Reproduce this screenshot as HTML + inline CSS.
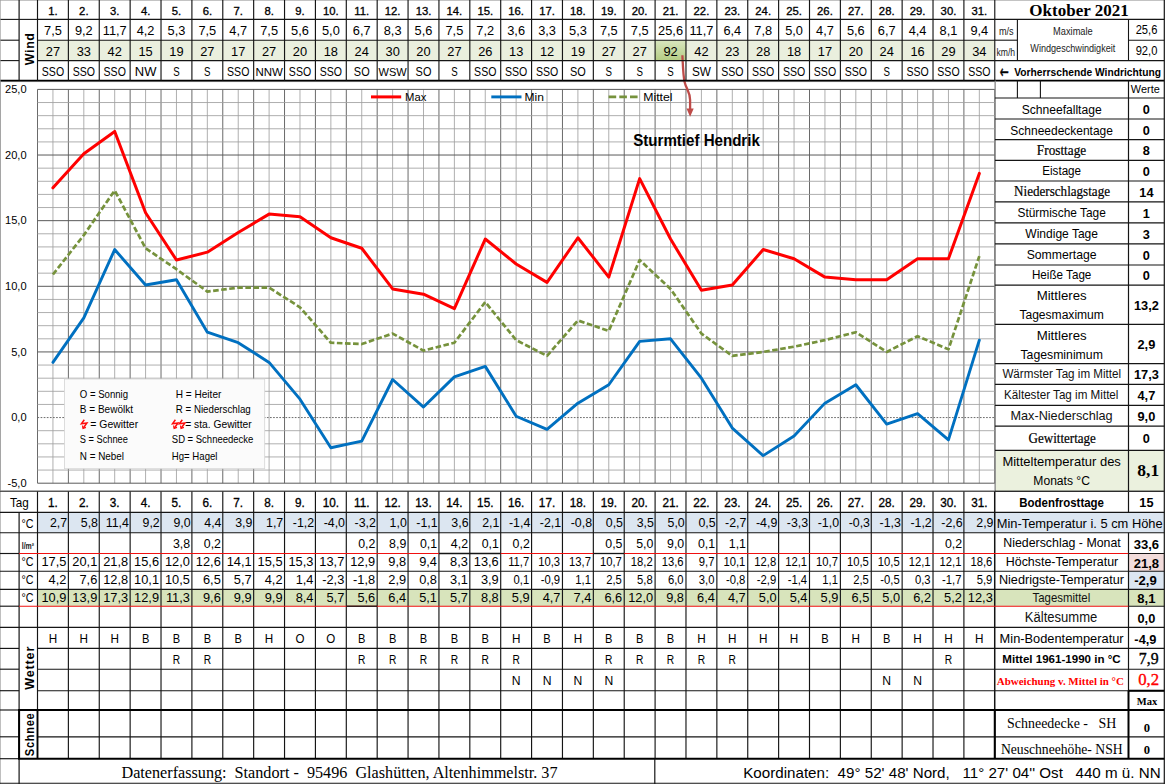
<!DOCTYPE html>
<html lang="de"><head><meta charset="utf-8"><title>Oktober 2021 – Wetterdaten Glashütten</title>
<style>
html,body{margin:0;padding:0;background:#fff;}
body{width:1165px;height:784px;overflow:hidden;}
svg{display:block;font-family:"Liberation Sans",Arial,sans-serif;}
svg text{white-space:pre;}
svg .tr{font-family:"Liberation Serif","Times New Roman",serif;}
</style></head><body>
<svg width="1165" height="784" viewBox="0 0 1165 784" role="img" aria-label="Wetterdaten Oktober 2021">
<rect x="0.00" y="0.00" width="1165.00" height="784.00" fill="#fff" />
<rect x="37.50" y="40.20" width="957.28" height="20.40" fill="#eaefde" />
<defs><linearGradient id="g92" x1="0" y1="0" x2="0" y2="1"><stop offset="0" stop-color="#d9e6bf"/><stop offset="1" stop-color="#b4cc83"/></linearGradient></defs>
<rect x="655.10" y="40.20" width="30.88" height="20.40" fill="url(#g92)" />
<rect x="37.50" y="512.30" width="1126.80" height="20.40" fill="#dce6f1" />
<rect x="37.50" y="589.40" width="1126.80" height="16.80" fill="#d8e4bc" />
<rect x="1128.50" y="553.50" width="35.80" height="17.70" fill="#f2dcdb" />
<rect x="1128.50" y="571.20" width="35.80" height="18.20" fill="#dce6f1" />
<rect x="994.78" y="450.30" width="169.52" height="41.00" fill="#ebf1de" />
<rect x="0.5" y="81.60" width="994.28" height="409.20" fill="#fff" stroke="#b8b8b8" stroke-width="1"/>
<line x1="37.50" y1="89.40" x2="37.50" y2="483.20" stroke="#6a6a6a" stroke-width="1.0" />
<line x1="52.94" y1="89.40" x2="52.94" y2="483.20" stroke="#a0a0a0" stroke-width="0.85" />
<line x1="68.38" y1="89.40" x2="68.38" y2="483.20" stroke="#6a6a6a" stroke-width="1.0" />
<line x1="83.82" y1="89.40" x2="83.82" y2="483.20" stroke="#a0a0a0" stroke-width="0.85" />
<line x1="99.26" y1="89.40" x2="99.26" y2="483.20" stroke="#6a6a6a" stroke-width="1.0" />
<line x1="114.70" y1="89.40" x2="114.70" y2="483.20" stroke="#a0a0a0" stroke-width="0.85" />
<line x1="130.14" y1="89.40" x2="130.14" y2="483.20" stroke="#6a6a6a" stroke-width="1.0" />
<line x1="145.58" y1="89.40" x2="145.58" y2="483.20" stroke="#a0a0a0" stroke-width="0.85" />
<line x1="161.02" y1="89.40" x2="161.02" y2="483.20" stroke="#6a6a6a" stroke-width="1.0" />
<line x1="176.46" y1="89.40" x2="176.46" y2="483.20" stroke="#a0a0a0" stroke-width="0.85" />
<line x1="191.90" y1="89.40" x2="191.90" y2="483.20" stroke="#6a6a6a" stroke-width="1.0" />
<line x1="207.34" y1="89.40" x2="207.34" y2="483.20" stroke="#a0a0a0" stroke-width="0.85" />
<line x1="222.78" y1="89.40" x2="222.78" y2="483.20" stroke="#6a6a6a" stroke-width="1.0" />
<line x1="238.22" y1="89.40" x2="238.22" y2="483.20" stroke="#a0a0a0" stroke-width="0.85" />
<line x1="253.66" y1="89.40" x2="253.66" y2="483.20" stroke="#6a6a6a" stroke-width="1.0" />
<line x1="269.10" y1="89.40" x2="269.10" y2="483.20" stroke="#a0a0a0" stroke-width="0.85" />
<line x1="284.54" y1="89.40" x2="284.54" y2="483.20" stroke="#6a6a6a" stroke-width="1.0" />
<line x1="299.98" y1="89.40" x2="299.98" y2="483.20" stroke="#a0a0a0" stroke-width="0.85" />
<line x1="315.42" y1="89.40" x2="315.42" y2="483.20" stroke="#6a6a6a" stroke-width="1.0" />
<line x1="330.86" y1="89.40" x2="330.86" y2="483.20" stroke="#a0a0a0" stroke-width="0.85" />
<line x1="346.30" y1="89.40" x2="346.30" y2="483.20" stroke="#6a6a6a" stroke-width="1.0" />
<line x1="361.74" y1="89.40" x2="361.74" y2="483.20" stroke="#a0a0a0" stroke-width="0.85" />
<line x1="377.18" y1="89.40" x2="377.18" y2="483.20" stroke="#6a6a6a" stroke-width="1.0" />
<line x1="392.62" y1="89.40" x2="392.62" y2="483.20" stroke="#a0a0a0" stroke-width="0.85" />
<line x1="408.06" y1="89.40" x2="408.06" y2="483.20" stroke="#6a6a6a" stroke-width="1.0" />
<line x1="423.50" y1="89.40" x2="423.50" y2="483.20" stroke="#a0a0a0" stroke-width="0.85" />
<line x1="438.94" y1="89.40" x2="438.94" y2="483.20" stroke="#6a6a6a" stroke-width="1.0" />
<line x1="454.38" y1="89.40" x2="454.38" y2="483.20" stroke="#a0a0a0" stroke-width="0.85" />
<line x1="469.82" y1="89.40" x2="469.82" y2="483.20" stroke="#6a6a6a" stroke-width="1.0" />
<line x1="485.26" y1="89.40" x2="485.26" y2="483.20" stroke="#a0a0a0" stroke-width="0.85" />
<line x1="500.70" y1="89.40" x2="500.70" y2="483.20" stroke="#6a6a6a" stroke-width="1.0" />
<line x1="516.14" y1="89.40" x2="516.14" y2="483.20" stroke="#a0a0a0" stroke-width="0.85" />
<line x1="531.58" y1="89.40" x2="531.58" y2="483.20" stroke="#6a6a6a" stroke-width="1.0" />
<line x1="547.02" y1="89.40" x2="547.02" y2="483.20" stroke="#a0a0a0" stroke-width="0.85" />
<line x1="562.46" y1="89.40" x2="562.46" y2="483.20" stroke="#6a6a6a" stroke-width="1.0" />
<line x1="577.90" y1="89.40" x2="577.90" y2="483.20" stroke="#a0a0a0" stroke-width="0.85" />
<line x1="593.34" y1="89.40" x2="593.34" y2="483.20" stroke="#6a6a6a" stroke-width="1.0" />
<line x1="608.78" y1="89.40" x2="608.78" y2="483.20" stroke="#a0a0a0" stroke-width="0.85" />
<line x1="624.22" y1="89.40" x2="624.22" y2="483.20" stroke="#6a6a6a" stroke-width="1.0" />
<line x1="639.66" y1="89.40" x2="639.66" y2="483.20" stroke="#a0a0a0" stroke-width="0.85" />
<line x1="655.10" y1="89.40" x2="655.10" y2="483.20" stroke="#6a6a6a" stroke-width="1.0" />
<line x1="670.54" y1="89.40" x2="670.54" y2="483.20" stroke="#a0a0a0" stroke-width="0.85" />
<line x1="685.98" y1="89.40" x2="685.98" y2="483.20" stroke="#6a6a6a" stroke-width="1.0" />
<line x1="701.42" y1="89.40" x2="701.42" y2="483.20" stroke="#a0a0a0" stroke-width="0.85" />
<line x1="716.86" y1="89.40" x2="716.86" y2="483.20" stroke="#6a6a6a" stroke-width="1.0" />
<line x1="732.30" y1="89.40" x2="732.30" y2="483.20" stroke="#a0a0a0" stroke-width="0.85" />
<line x1="747.74" y1="89.40" x2="747.74" y2="483.20" stroke="#6a6a6a" stroke-width="1.0" />
<line x1="763.18" y1="89.40" x2="763.18" y2="483.20" stroke="#a0a0a0" stroke-width="0.85" />
<line x1="778.62" y1="89.40" x2="778.62" y2="483.20" stroke="#6a6a6a" stroke-width="1.0" />
<line x1="794.06" y1="89.40" x2="794.06" y2="483.20" stroke="#a0a0a0" stroke-width="0.85" />
<line x1="809.50" y1="89.40" x2="809.50" y2="483.20" stroke="#6a6a6a" stroke-width="1.0" />
<line x1="824.94" y1="89.40" x2="824.94" y2="483.20" stroke="#a0a0a0" stroke-width="0.85" />
<line x1="840.38" y1="89.40" x2="840.38" y2="483.20" stroke="#6a6a6a" stroke-width="1.0" />
<line x1="855.82" y1="89.40" x2="855.82" y2="483.20" stroke="#a0a0a0" stroke-width="0.85" />
<line x1="871.26" y1="89.40" x2="871.26" y2="483.20" stroke="#6a6a6a" stroke-width="1.0" />
<line x1="886.70" y1="89.40" x2="886.70" y2="483.20" stroke="#a0a0a0" stroke-width="0.85" />
<line x1="902.14" y1="89.40" x2="902.14" y2="483.20" stroke="#6a6a6a" stroke-width="1.0" />
<line x1="917.58" y1="89.40" x2="917.58" y2="483.20" stroke="#a0a0a0" stroke-width="0.85" />
<line x1="933.02" y1="89.40" x2="933.02" y2="483.20" stroke="#6a6a6a" stroke-width="1.0" />
<line x1="948.46" y1="89.40" x2="948.46" y2="483.20" stroke="#a0a0a0" stroke-width="0.85" />
<line x1="963.90" y1="89.40" x2="963.90" y2="483.20" stroke="#6a6a6a" stroke-width="1.0" />
<line x1="979.34" y1="89.40" x2="979.34" y2="483.20" stroke="#a0a0a0" stroke-width="0.85" />
<line x1="994.78" y1="89.40" x2="994.78" y2="483.20" stroke="#6a6a6a" stroke-width="1.0" />
<line x1="37.50" y1="483.20" x2="994.78" y2="483.20" stroke="#5a5a5a" stroke-width="1.0" />
<line x1="37.50" y1="470.07" x2="994.78" y2="470.07" stroke="#a0a0a0" stroke-width="0.85" />
<line x1="37.50" y1="456.95" x2="994.78" y2="456.95" stroke="#a0a0a0" stroke-width="0.85" />
<line x1="37.50" y1="443.82" x2="994.78" y2="443.82" stroke="#a0a0a0" stroke-width="0.85" />
<line x1="37.50" y1="430.69" x2="994.78" y2="430.69" stroke="#a0a0a0" stroke-width="0.85" />
<line x1="37.50" y1="417.57" x2="994.78" y2="417.57" stroke="#6a6a6a" stroke-width="1.0" stroke-dasharray="1.7 1.4"/>
<line x1="37.50" y1="404.44" x2="994.78" y2="404.44" stroke="#a0a0a0" stroke-width="0.85" />
<line x1="37.50" y1="391.31" x2="994.78" y2="391.31" stroke="#a0a0a0" stroke-width="0.85" />
<line x1="37.50" y1="378.19" x2="994.78" y2="378.19" stroke="#a0a0a0" stroke-width="0.85" />
<line x1="37.50" y1="365.06" x2="994.78" y2="365.06" stroke="#a0a0a0" stroke-width="0.85" />
<line x1="37.50" y1="351.93" x2="994.78" y2="351.93" stroke="#5a5a5a" stroke-width="1.0" />
<line x1="37.50" y1="338.81" x2="994.78" y2="338.81" stroke="#a0a0a0" stroke-width="0.85" />
<line x1="37.50" y1="325.68" x2="994.78" y2="325.68" stroke="#a0a0a0" stroke-width="0.85" />
<line x1="37.50" y1="312.55" x2="994.78" y2="312.55" stroke="#a0a0a0" stroke-width="0.85" />
<line x1="37.50" y1="299.43" x2="994.78" y2="299.43" stroke="#a0a0a0" stroke-width="0.85" />
<line x1="37.50" y1="286.30" x2="994.78" y2="286.30" stroke="#5a5a5a" stroke-width="1.0" />
<line x1="37.50" y1="273.17" x2="994.78" y2="273.17" stroke="#a0a0a0" stroke-width="0.85" />
<line x1="37.50" y1="260.05" x2="994.78" y2="260.05" stroke="#a0a0a0" stroke-width="0.85" />
<line x1="37.50" y1="246.92" x2="994.78" y2="246.92" stroke="#a0a0a0" stroke-width="0.85" />
<line x1="37.50" y1="233.79" x2="994.78" y2="233.79" stroke="#a0a0a0" stroke-width="0.85" />
<line x1="37.50" y1="220.67" x2="994.78" y2="220.67" stroke="#5a5a5a" stroke-width="1.0" />
<line x1="37.50" y1="207.54" x2="994.78" y2="207.54" stroke="#a0a0a0" stroke-width="0.85" />
<line x1="37.50" y1="194.41" x2="994.78" y2="194.41" stroke="#a0a0a0" stroke-width="0.85" />
<line x1="37.50" y1="181.29" x2="994.78" y2="181.29" stroke="#a0a0a0" stroke-width="0.85" />
<line x1="37.50" y1="168.16" x2="994.78" y2="168.16" stroke="#a0a0a0" stroke-width="0.85" />
<line x1="37.50" y1="155.03" x2="994.78" y2="155.03" stroke="#5a5a5a" stroke-width="1.0" />
<line x1="37.50" y1="141.91" x2="994.78" y2="141.91" stroke="#a0a0a0" stroke-width="0.85" />
<line x1="37.50" y1="128.78" x2="994.78" y2="128.78" stroke="#a0a0a0" stroke-width="0.85" />
<line x1="37.50" y1="115.65" x2="994.78" y2="115.65" stroke="#a0a0a0" stroke-width="0.85" />
<line x1="37.50" y1="102.53" x2="994.78" y2="102.53" stroke="#a0a0a0" stroke-width="0.85" />
<line x1="37.50" y1="89.40" x2="994.78" y2="89.40" stroke="#5a5a5a" stroke-width="1.0" />
<text transform="translate(26.60 487.00) scale(0.9846 1)" font-size="11.29" text-anchor="end" fill="#000" >-5,0</text>
<text transform="translate(26.60 421.37) scale(0.9824 1)" font-size="11.29" text-anchor="end" fill="#000" >0,0</text>
<text transform="translate(26.60 355.73) scale(0.9824 1)" font-size="11.29" text-anchor="end" fill="#000" >5,0</text>
<text transform="translate(26.60 290.10) scale(0.9832 1)" font-size="11.29" text-anchor="end" fill="#000" >10,0</text>
<text transform="translate(26.60 224.47) scale(0.9832 1)" font-size="11.29" text-anchor="end" fill="#000" >15,0</text>
<text transform="translate(26.60 158.83) scale(0.9832 1)" font-size="11.29" text-anchor="end" fill="#000" >20,0</text>
<text transform="translate(26.60 93.20) scale(0.9832 1)" font-size="11.29" text-anchor="end" fill="#000" >25,0</text>
<rect x="64.4" y="379" width="200.3" height="89.7" fill="#fbfbfb" stroke="#d4d4d4" stroke-width="0.8"/>
<text transform="translate(79.80 397.60) scale(0.9347 1)" font-size="10.27" text-anchor="start" fill="#000" >O = Sonnig</text>
<text transform="translate(175.80 397.60) scale(0.9797 1)" font-size="10.27" text-anchor="start" fill="#000" >H = Heiter</text>
<text transform="translate(79.80 412.60) scale(0.9770 1)" font-size="10.27" text-anchor="start" fill="#000" >B = Bewölkt</text>
<text transform="translate(175.80 412.60) scale(0.9487 1)" font-size="10.27" text-anchor="start" fill="#000" >R = Niederschlag</text>
<text transform="translate(90.30 428.40) scale(1.0170 1)" font-size="10.27" text-anchor="start" fill="#000" >= Gewitter</text>
<text transform="translate(185.20 428.40) scale(1.0013 1)" font-size="10.27" text-anchor="start" fill="#000" >= sta. Gewitter</text>
<text transform="translate(79.80 443.40) scale(0.9022 1)" font-size="10.27" text-anchor="start" fill="#000" >S = Schnee</text>
<text transform="translate(171.80 443.40) scale(0.9253 1)" font-size="10.27" text-anchor="start" fill="#000" >SD = Schneedecke</text>
<text transform="translate(79.80 459.60) scale(0.9643 1)" font-size="10.27" text-anchor="start" fill="#000" >N = Nebel</text>
<text transform="translate(171.80 459.60) scale(0.9366 1)" font-size="10.27" text-anchor="start" fill="#000" >Hg= Hagel</text>
<path d="M84.3 419.7 L81.4 423.7 L86.9 423.0 L83.1 428.2" fill="none" stroke="#ff0d0d" stroke-width="1.5" stroke-linejoin="miter"/>
<path d="M82.5 425.5 L83.0 428.4 L85.9 427.4" fill="none" stroke="#ff0d0d" stroke-width="1.2"/>
<path d="M175.4 419.7 L172.5 423.7 L178.0 423.0 L174.2 428.2" fill="none" stroke="#ff0d0d" stroke-width="1.5" stroke-linejoin="miter"/>
<path d="M173.6 425.5 L174.1 428.4 L177.0 427.4" fill="none" stroke="#ff0d0d" stroke-width="1.2"/>
<path d="M182.3 419.7 L179.4 423.7 L184.9 423.0 L181.1 428.2" fill="none" stroke="#ff0d0d" stroke-width="1.5" stroke-linejoin="miter"/>
<path d="M180.5 425.5 L181.0 428.4 L183.9 427.4" fill="none" stroke="#ff0d0d" stroke-width="1.2"/>
<polyline points="52.94,274.49 83.82,235.11 114.70,190.48 145.58,248.23 176.46,269.24 207.34,291.55 238.22,287.61 269.10,287.61 299.98,307.30 330.86,342.74 361.74,344.06 392.62,333.56 423.50,350.62 454.38,342.74 485.26,302.05 516.14,340.12 547.02,355.87 577.90,320.43 608.78,330.93 639.66,260.05 670.54,288.93 701.42,333.56 732.30,355.87 763.18,351.93 794.06,346.68 824.94,340.12 855.82,332.24 886.70,351.93 917.58,336.18 948.46,349.31 979.34,256.11" fill="none" stroke="#76923c" stroke-width="2.7" stroke-linejoin="round" stroke-linecap="butt" stroke-dasharray="5.6 2.5"/>
<polyline points="52.94,362.43 83.82,317.80 114.70,249.55 145.58,284.99 176.46,279.74 207.34,332.24 238.22,342.74 269.10,362.43 299.98,399.19 330.86,447.76 361.74,441.19 392.62,379.50 423.50,407.07 454.38,376.87 485.26,366.37 516.14,416.25 547.02,429.38 577.90,403.13 608.78,384.75 639.66,341.43 670.54,338.81 701.42,378.19 732.30,428.07 763.18,455.63 794.06,435.94 824.94,403.13 855.82,384.75 886.70,424.13 917.58,413.63 948.46,439.88 979.34,340.12" fill="none" stroke="#0070c0" stroke-width="2.9" stroke-linejoin="round" stroke-linecap="round" />
<polyline points="52.94,187.85 83.82,153.72 114.70,131.41 145.58,212.79 176.46,260.05 207.34,252.17 238.22,232.48 269.10,214.10 299.98,216.73 330.86,237.73 361.74,248.23 392.62,288.93 423.50,294.18 454.38,308.62 485.26,239.04 516.14,263.98 547.02,282.36 577.90,237.73 608.78,277.11 639.66,178.66 670.54,239.04 701.42,290.24 732.30,284.99 763.18,249.55 794.06,258.73 824.94,277.11 855.82,279.74 886.70,279.74 917.58,258.73 948.46,258.73 979.34,173.41" fill="none" stroke="#ff0000" stroke-width="3.0" stroke-linejoin="round" stroke-linecap="round" />
<line x1="371.00" y1="96.90" x2="401.20" y2="96.90" stroke="#ff0000" stroke-width="3.0" />
<text transform="translate(405.00 101.00) scale(1.0517 1)" font-size="10.73" text-anchor="start" fill="#000" >Max</text>
<line x1="491.30" y1="96.90" x2="521.50" y2="96.90" stroke="#0070c0" stroke-width="2.9" />
<text transform="translate(524.50 101.00) scale(1.1233 1)" font-size="10.73" text-anchor="start" fill="#000" >Min</text>
<line x1="608.60" y1="96.90" x2="637.60" y2="96.90" stroke="#76923c" stroke-width="2.7" stroke-dasharray="7.6 3.1"/>
<text transform="translate(643.20 101.00) scale(1.1453 1)" font-size="10.73" text-anchor="start" fill="#000" >Mittel</text>
<text transform="translate(633.20 146.30) scale(0.9602 1)" font-size="15.73" text-anchor="start" font-weight="bold" fill="#000" >Sturmtief Hendrik</text>
<path d="M682.4 55.2 C683.0 68 683.2 76 684.6 82 C686.2 89 690.1 92 690.1 100 L690.1 111" fill="none" stroke="#be4b48" stroke-width="2.3"/>
<path d="M686.5 108.6 L693.7 108.6 L690.1 116.8 Z" fill="#be4b48"/>
<text transform="translate(52.94 14.50) scale(0.9842 1)" font-size="11.47" text-anchor="middle" fill="#000" stroke="#000" stroke-width="0.32">1.</text>
<text transform="translate(52.94 35.40) scale(0.9824 1)" font-size="13.04" text-anchor="middle" fill="#000" >7,5</text>
<text transform="translate(52.94 55.60) scale(0.9852 1)" font-size="13.04" text-anchor="middle" fill="#000" >27</text>
<text transform="translate(52.94 75.60) scale(0.8094 1)" font-size="13.04" text-anchor="middle" fill="#000" >SSO</text>
<text transform="translate(83.82 14.50) scale(0.9842 1)" font-size="11.47" text-anchor="middle" fill="#000" stroke="#000" stroke-width="0.32">2.</text>
<text transform="translate(83.82 35.40) scale(0.9824 1)" font-size="13.04" text-anchor="middle" fill="#000" >9,2</text>
<text transform="translate(83.82 55.60) scale(0.9852 1)" font-size="13.04" text-anchor="middle" fill="#000" >33</text>
<text transform="translate(83.82 75.60) scale(0.8094 1)" font-size="13.04" text-anchor="middle" fill="#000" >SSO</text>
<text transform="translate(114.70 14.50) scale(0.9842 1)" font-size="11.47" text-anchor="middle" fill="#000" stroke="#000" stroke-width="0.32">3.</text>
<text transform="translate(114.70 35.40) scale(0.9832 1)" font-size="13.04" text-anchor="middle" fill="#000" >11,7</text>
<text transform="translate(114.70 55.60) scale(0.9852 1)" font-size="13.04" text-anchor="middle" fill="#000" >42</text>
<text transform="translate(114.70 75.60) scale(0.8094 1)" font-size="13.04" text-anchor="middle" fill="#000" >SSO</text>
<text transform="translate(145.58 14.50) scale(0.9842 1)" font-size="11.47" text-anchor="middle" fill="#000" stroke="#000" stroke-width="0.32">4.</text>
<text transform="translate(145.58 35.40) scale(0.9824 1)" font-size="13.04" text-anchor="middle" fill="#000" >4,2</text>
<text transform="translate(145.58 55.60) scale(0.9852 1)" font-size="13.04" text-anchor="middle" fill="#000" >15</text>
<text transform="translate(145.58 75.60) scale(0.9962 1)" font-size="13.04" text-anchor="middle" fill="#000" >NW</text>
<text transform="translate(176.46 14.50) scale(0.9842 1)" font-size="11.47" text-anchor="middle" fill="#000" stroke="#000" stroke-width="0.32">5.</text>
<text transform="translate(176.46 35.40) scale(0.9824 1)" font-size="13.04" text-anchor="middle" fill="#000" >5,3</text>
<text transform="translate(176.46 55.60) scale(0.9852 1)" font-size="13.04" text-anchor="middle" fill="#000" >19</text>
<text transform="translate(176.46 75.60) scale(0.7447 1)" font-size="13.04" text-anchor="middle" fill="#000" >S</text>
<text transform="translate(207.34 14.50) scale(0.9842 1)" font-size="11.47" text-anchor="middle" fill="#000" stroke="#000" stroke-width="0.32">6.</text>
<text transform="translate(207.34 35.40) scale(0.9824 1)" font-size="13.04" text-anchor="middle" fill="#000" >7,5</text>
<text transform="translate(207.34 55.60) scale(0.9852 1)" font-size="13.04" text-anchor="middle" fill="#000" >27</text>
<text transform="translate(207.34 75.60) scale(0.7447 1)" font-size="13.04" text-anchor="middle" fill="#000" >S</text>
<text transform="translate(238.22 14.50) scale(0.9842 1)" font-size="11.47" text-anchor="middle" fill="#000" stroke="#000" stroke-width="0.32">7.</text>
<text transform="translate(238.22 35.40) scale(0.9824 1)" font-size="13.04" text-anchor="middle" fill="#000" >4,7</text>
<text transform="translate(238.22 55.60) scale(0.9852 1)" font-size="13.04" text-anchor="middle" fill="#000" >17</text>
<text transform="translate(238.22 75.60) scale(0.8094 1)" font-size="13.04" text-anchor="middle" fill="#000" >SSO</text>
<text transform="translate(269.10 14.50) scale(0.9842 1)" font-size="11.47" text-anchor="middle" fill="#000" stroke="#000" stroke-width="0.32">8.</text>
<text transform="translate(269.10 35.40) scale(0.9824 1)" font-size="13.04" text-anchor="middle" fill="#000" >7,5</text>
<text transform="translate(269.10 55.60) scale(0.9852 1)" font-size="13.04" text-anchor="middle" fill="#000" >27</text>
<text transform="translate(269.10 75.60) scale(0.9871 1)" font-size="11.65" text-anchor="middle" fill="#000" >NNW</text>
<text transform="translate(299.98 14.50) scale(0.9842 1)" font-size="11.47" text-anchor="middle" fill="#000" stroke="#000" stroke-width="0.32">9.</text>
<text transform="translate(299.98 35.40) scale(0.9824 1)" font-size="13.04" text-anchor="middle" fill="#000" >5,6</text>
<text transform="translate(299.98 55.60) scale(0.9852 1)" font-size="13.04" text-anchor="middle" fill="#000" >20</text>
<text transform="translate(299.98 75.60) scale(0.8094 1)" font-size="13.04" text-anchor="middle" fill="#000" >SSO</text>
<text transform="translate(330.86 14.50) scale(0.9846 1)" font-size="11.47" text-anchor="middle" fill="#000" stroke="#000" stroke-width="0.32">10.</text>
<text transform="translate(330.86 35.40) scale(0.9824 1)" font-size="13.04" text-anchor="middle" fill="#000" >5,0</text>
<text transform="translate(330.86 55.60) scale(0.9852 1)" font-size="13.04" text-anchor="middle" fill="#000" >18</text>
<text transform="translate(330.86 75.60) scale(0.8094 1)" font-size="13.04" text-anchor="middle" fill="#000" >SSO</text>
<text transform="translate(361.74 14.50) scale(0.9846 1)" font-size="11.47" text-anchor="middle" fill="#000" stroke="#000" stroke-width="0.32">11.</text>
<text transform="translate(361.74 35.40) scale(0.9824 1)" font-size="13.04" text-anchor="middle" fill="#000" >6,7</text>
<text transform="translate(361.74 55.60) scale(0.9852 1)" font-size="13.04" text-anchor="middle" fill="#000" >24</text>
<text transform="translate(361.74 75.60) scale(0.8392 1)" font-size="13.04" text-anchor="middle" fill="#000" >SO</text>
<text transform="translate(392.62 14.50) scale(0.9846 1)" font-size="11.47" text-anchor="middle" fill="#000" stroke="#000" stroke-width="0.32">12.</text>
<text transform="translate(392.62 35.40) scale(0.9824 1)" font-size="13.04" text-anchor="middle" fill="#000" >8,3</text>
<text transform="translate(392.62 55.60) scale(0.9852 1)" font-size="13.04" text-anchor="middle" fill="#000" >30</text>
<text transform="translate(392.62 75.60) scale(0.9474 1)" font-size="11.65" text-anchor="middle" fill="#000" >WSW</text>
<text transform="translate(423.50 14.50) scale(0.9846 1)" font-size="11.47" text-anchor="middle" fill="#000" stroke="#000" stroke-width="0.32">13.</text>
<text transform="translate(423.50 35.40) scale(0.9824 1)" font-size="13.04" text-anchor="middle" fill="#000" >5,6</text>
<text transform="translate(423.50 55.60) scale(0.9852 1)" font-size="13.04" text-anchor="middle" fill="#000" >20</text>
<text transform="translate(423.50 75.60) scale(0.8392 1)" font-size="13.04" text-anchor="middle" fill="#000" >SO</text>
<text transform="translate(454.38 14.50) scale(0.9846 1)" font-size="11.47" text-anchor="middle" fill="#000" stroke="#000" stroke-width="0.32">14.</text>
<text transform="translate(454.38 35.40) scale(0.9824 1)" font-size="13.04" text-anchor="middle" fill="#000" >7,5</text>
<text transform="translate(454.38 55.60) scale(0.9852 1)" font-size="13.04" text-anchor="middle" fill="#000" >27</text>
<text transform="translate(454.38 75.60) scale(0.7447 1)" font-size="13.04" text-anchor="middle" fill="#000" >S</text>
<text transform="translate(485.26 14.50) scale(0.9846 1)" font-size="11.47" text-anchor="middle" fill="#000" stroke="#000" stroke-width="0.32">15.</text>
<text transform="translate(485.26 35.40) scale(0.9824 1)" font-size="13.04" text-anchor="middle" fill="#000" >7,2</text>
<text transform="translate(485.26 55.60) scale(0.9852 1)" font-size="13.04" text-anchor="middle" fill="#000" >26</text>
<text transform="translate(485.26 75.60) scale(0.8094 1)" font-size="13.04" text-anchor="middle" fill="#000" >SSO</text>
<text transform="translate(516.14 14.50) scale(0.9846 1)" font-size="11.47" text-anchor="middle" fill="#000" stroke="#000" stroke-width="0.32">16.</text>
<text transform="translate(516.14 35.40) scale(0.9824 1)" font-size="13.04" text-anchor="middle" fill="#000" >3,6</text>
<text transform="translate(516.14 55.60) scale(0.9852 1)" font-size="13.04" text-anchor="middle" fill="#000" >13</text>
<text transform="translate(516.14 75.60) scale(0.8094 1)" font-size="13.04" text-anchor="middle" fill="#000" >SSO</text>
<text transform="translate(547.02 14.50) scale(0.9846 1)" font-size="11.47" text-anchor="middle" fill="#000" stroke="#000" stroke-width="0.32">17.</text>
<text transform="translate(547.02 35.40) scale(0.9824 1)" font-size="13.04" text-anchor="middle" fill="#000" >3,3</text>
<text transform="translate(547.02 55.60) scale(0.9852 1)" font-size="13.04" text-anchor="middle" fill="#000" >12</text>
<text transform="translate(547.02 75.60) scale(0.8094 1)" font-size="13.04" text-anchor="middle" fill="#000" >SSO</text>
<text transform="translate(577.90 14.50) scale(0.9846 1)" font-size="11.47" text-anchor="middle" fill="#000" stroke="#000" stroke-width="0.32">18.</text>
<text transform="translate(577.90 35.40) scale(0.9824 1)" font-size="13.04" text-anchor="middle" fill="#000" >5,3</text>
<text transform="translate(577.90 55.60) scale(0.9852 1)" font-size="13.04" text-anchor="middle" fill="#000" >19</text>
<text transform="translate(577.90 75.60) scale(0.8392 1)" font-size="13.04" text-anchor="middle" fill="#000" >SO</text>
<text transform="translate(608.78 14.50) scale(0.9846 1)" font-size="11.47" text-anchor="middle" fill="#000" stroke="#000" stroke-width="0.32">19.</text>
<text transform="translate(608.78 35.40) scale(0.9824 1)" font-size="13.04" text-anchor="middle" fill="#000" >7,5</text>
<text transform="translate(608.78 55.60) scale(0.9852 1)" font-size="13.04" text-anchor="middle" fill="#000" >27</text>
<text transform="translate(608.78 75.60) scale(0.7447 1)" font-size="13.04" text-anchor="middle" fill="#000" >S</text>
<text transform="translate(639.66 14.50) scale(0.9846 1)" font-size="11.47" text-anchor="middle" fill="#000" stroke="#000" stroke-width="0.32">20.</text>
<text transform="translate(639.66 35.40) scale(0.9824 1)" font-size="13.04" text-anchor="middle" fill="#000" >7,5</text>
<text transform="translate(639.66 55.60) scale(0.9852 1)" font-size="13.04" text-anchor="middle" fill="#000" >27</text>
<text transform="translate(639.66 75.60) scale(0.7447 1)" font-size="13.04" text-anchor="middle" fill="#000" >S</text>
<text transform="translate(670.54 14.50) scale(0.9846 1)" font-size="11.47" text-anchor="middle" fill="#000" stroke="#000" stroke-width="0.32">21.</text>
<text transform="translate(670.54 35.40) scale(0.9832 1)" font-size="13.04" text-anchor="middle" fill="#000" >25,6</text>
<text transform="translate(670.54 55.60) scale(0.9852 1)" font-size="13.04" text-anchor="middle" fill="#000" >92</text>
<text transform="translate(670.54 75.60) scale(0.7447 1)" font-size="13.04" text-anchor="middle" fill="#000" >S</text>
<text transform="translate(701.42 14.50) scale(0.9846 1)" font-size="11.47" text-anchor="middle" fill="#000" stroke="#000" stroke-width="0.32">22.</text>
<text transform="translate(701.42 35.40) scale(0.9832 1)" font-size="13.04" text-anchor="middle" fill="#000" >11,7</text>
<text transform="translate(701.42 55.60) scale(0.9852 1)" font-size="13.04" text-anchor="middle" fill="#000" >42</text>
<text transform="translate(701.42 75.60) scale(0.9054 1)" font-size="13.04" text-anchor="middle" fill="#000" >SW</text>
<text transform="translate(732.30 14.50) scale(0.9846 1)" font-size="11.47" text-anchor="middle" fill="#000" stroke="#000" stroke-width="0.32">23.</text>
<text transform="translate(732.30 35.40) scale(0.9824 1)" font-size="13.04" text-anchor="middle" fill="#000" >6,4</text>
<text transform="translate(732.30 55.60) scale(0.9852 1)" font-size="13.04" text-anchor="middle" fill="#000" >23</text>
<text transform="translate(732.30 75.60) scale(0.8094 1)" font-size="13.04" text-anchor="middle" fill="#000" >SSO</text>
<text transform="translate(763.18 14.50) scale(0.9846 1)" font-size="11.47" text-anchor="middle" fill="#000" stroke="#000" stroke-width="0.32">24.</text>
<text transform="translate(763.18 35.40) scale(0.9824 1)" font-size="13.04" text-anchor="middle" fill="#000" >7,8</text>
<text transform="translate(763.18 55.60) scale(0.9852 1)" font-size="13.04" text-anchor="middle" fill="#000" >28</text>
<text transform="translate(763.18 75.60) scale(0.8094 1)" font-size="13.04" text-anchor="middle" fill="#000" >SSO</text>
<text transform="translate(794.06 14.50) scale(0.9846 1)" font-size="11.47" text-anchor="middle" fill="#000" stroke="#000" stroke-width="0.32">25.</text>
<text transform="translate(794.06 35.40) scale(0.9824 1)" font-size="13.04" text-anchor="middle" fill="#000" >5,0</text>
<text transform="translate(794.06 55.60) scale(0.9852 1)" font-size="13.04" text-anchor="middle" fill="#000" >18</text>
<text transform="translate(794.06 75.60) scale(0.8094 1)" font-size="13.04" text-anchor="middle" fill="#000" >SSO</text>
<text transform="translate(824.94 14.50) scale(0.9846 1)" font-size="11.47" text-anchor="middle" fill="#000" stroke="#000" stroke-width="0.32">26.</text>
<text transform="translate(824.94 35.40) scale(0.9824 1)" font-size="13.04" text-anchor="middle" fill="#000" >4,7</text>
<text transform="translate(824.94 55.60) scale(0.9852 1)" font-size="13.04" text-anchor="middle" fill="#000" >17</text>
<text transform="translate(824.94 75.60) scale(0.8094 1)" font-size="13.04" text-anchor="middle" fill="#000" >SSO</text>
<text transform="translate(855.82 14.50) scale(0.9846 1)" font-size="11.47" text-anchor="middle" fill="#000" stroke="#000" stroke-width="0.32">27.</text>
<text transform="translate(855.82 35.40) scale(0.9824 1)" font-size="13.04" text-anchor="middle" fill="#000" >5,6</text>
<text transform="translate(855.82 55.60) scale(0.9852 1)" font-size="13.04" text-anchor="middle" fill="#000" >20</text>
<text transform="translate(855.82 75.60) scale(0.8094 1)" font-size="13.04" text-anchor="middle" fill="#000" >SSO</text>
<text transform="translate(886.70 14.50) scale(0.9846 1)" font-size="11.47" text-anchor="middle" fill="#000" stroke="#000" stroke-width="0.32">28.</text>
<text transform="translate(886.70 35.40) scale(0.9824 1)" font-size="13.04" text-anchor="middle" fill="#000" >6,7</text>
<text transform="translate(886.70 55.60) scale(0.9852 1)" font-size="13.04" text-anchor="middle" fill="#000" >24</text>
<text transform="translate(886.70 75.60) scale(0.7447 1)" font-size="13.04" text-anchor="middle" fill="#000" >S</text>
<text transform="translate(917.58 14.50) scale(0.9846 1)" font-size="11.47" text-anchor="middle" fill="#000" stroke="#000" stroke-width="0.32">29.</text>
<text transform="translate(917.58 35.40) scale(0.9824 1)" font-size="13.04" text-anchor="middle" fill="#000" >4,4</text>
<text transform="translate(917.58 55.60) scale(0.9852 1)" font-size="13.04" text-anchor="middle" fill="#000" >16</text>
<text transform="translate(917.58 75.60) scale(0.8094 1)" font-size="13.04" text-anchor="middle" fill="#000" >SSO</text>
<text transform="translate(948.46 14.50) scale(0.9846 1)" font-size="11.47" text-anchor="middle" fill="#000" stroke="#000" stroke-width="0.32">30.</text>
<text transform="translate(948.46 35.40) scale(0.9824 1)" font-size="13.04" text-anchor="middle" fill="#000" >8,1</text>
<text transform="translate(948.46 55.60) scale(0.9852 1)" font-size="13.04" text-anchor="middle" fill="#000" >29</text>
<text transform="translate(948.46 75.60) scale(0.8094 1)" font-size="13.04" text-anchor="middle" fill="#000" >SSO</text>
<text transform="translate(979.34 14.50) scale(0.9846 1)" font-size="11.47" text-anchor="middle" fill="#000" stroke="#000" stroke-width="0.32">31.</text>
<text transform="translate(979.34 35.40) scale(0.9824 1)" font-size="13.04" text-anchor="middle" fill="#000" >9,4</text>
<text transform="translate(979.34 55.60) scale(0.9852 1)" font-size="13.04" text-anchor="middle" fill="#000" >34</text>
<text transform="translate(979.34 75.60) scale(0.8094 1)" font-size="13.04" text-anchor="middle" fill="#000" >SSO</text>
<g transform="translate(34.4 48.8) rotate(-90)">
<text transform="translate(0.00 0.00) scale(0.9845 1)" font-size="12.67" text-anchor="middle" font-weight="bold" fill="#000" letter-spacing="0.6">Wind</text>
</g>
<line x1="0.00" y1="19.40" x2="19.10" y2="19.40" stroke="#151515" stroke-width="1.1" />
<line x1="37.50" y1="19.40" x2="994.78" y2="19.40" stroke="#151515" stroke-width="1.1" />
<line x1="0.00" y1="40.20" x2="19.10" y2="40.20" stroke="#151515" stroke-width="1.1" />
<line x1="37.50" y1="40.20" x2="994.78" y2="40.20" stroke="#151515" stroke-width="1.1" />
<line x1="0.00" y1="60.60" x2="19.10" y2="60.60" stroke="#151515" stroke-width="1.1" />
<line x1="37.50" y1="60.60" x2="994.78" y2="60.60" stroke="#151515" stroke-width="1.1" />
<line x1="19.10" y1="19.40" x2="37.50" y2="19.40" stroke="#151515" stroke-width="1.1" />
<line x1="0.00" y1="0.40" x2="1165.00" y2="0.40" stroke="#b4b4b4" stroke-width="0.9" />
<line x1="0.00" y1="80.60" x2="1164.30" y2="80.60" stroke="#000" stroke-width="1.8" />
<line x1="19.10" y1="0.00" x2="19.10" y2="80.60" stroke="#151515" stroke-width="1.2" />
<line x1="37.50" y1="0.00" x2="37.50" y2="80.60" stroke="#151515" stroke-width="1.15" />
<line x1="68.38" y1="0.00" x2="68.38" y2="80.60" stroke="#151515" stroke-width="1.15" />
<line x1="99.26" y1="0.00" x2="99.26" y2="80.60" stroke="#151515" stroke-width="1.15" />
<line x1="130.14" y1="0.00" x2="130.14" y2="80.60" stroke="#151515" stroke-width="1.15" />
<line x1="161.02" y1="0.00" x2="161.02" y2="80.60" stroke="#151515" stroke-width="1.15" />
<line x1="191.90" y1="0.00" x2="191.90" y2="80.60" stroke="#151515" stroke-width="1.15" />
<line x1="222.78" y1="0.00" x2="222.78" y2="80.60" stroke="#151515" stroke-width="1.15" />
<line x1="253.66" y1="0.00" x2="253.66" y2="80.60" stroke="#151515" stroke-width="1.15" />
<line x1="284.54" y1="0.00" x2="284.54" y2="80.60" stroke="#151515" stroke-width="1.15" />
<line x1="315.42" y1="0.00" x2="315.42" y2="80.60" stroke="#151515" stroke-width="1.15" />
<line x1="346.30" y1="0.00" x2="346.30" y2="80.60" stroke="#151515" stroke-width="1.15" />
<line x1="377.18" y1="0.00" x2="377.18" y2="80.60" stroke="#151515" stroke-width="1.15" />
<line x1="408.06" y1="0.00" x2="408.06" y2="80.60" stroke="#151515" stroke-width="1.15" />
<line x1="438.94" y1="0.00" x2="438.94" y2="80.60" stroke="#151515" stroke-width="1.15" />
<line x1="469.82" y1="0.00" x2="469.82" y2="80.60" stroke="#151515" stroke-width="1.15" />
<line x1="500.70" y1="0.00" x2="500.70" y2="80.60" stroke="#151515" stroke-width="1.15" />
<line x1="531.58" y1="0.00" x2="531.58" y2="80.60" stroke="#151515" stroke-width="1.15" />
<line x1="562.46" y1="0.00" x2="562.46" y2="80.60" stroke="#151515" stroke-width="1.15" />
<line x1="593.34" y1="0.00" x2="593.34" y2="80.60" stroke="#151515" stroke-width="1.15" />
<line x1="624.22" y1="0.00" x2="624.22" y2="80.60" stroke="#151515" stroke-width="1.15" />
<line x1="655.10" y1="0.00" x2="655.10" y2="80.60" stroke="#151515" stroke-width="1.15" />
<line x1="685.98" y1="0.00" x2="685.98" y2="80.60" stroke="#151515" stroke-width="1.15" />
<line x1="716.86" y1="0.00" x2="716.86" y2="80.60" stroke="#151515" stroke-width="1.15" />
<line x1="747.74" y1="0.00" x2="747.74" y2="80.60" stroke="#151515" stroke-width="1.15" />
<line x1="778.62" y1="0.00" x2="778.62" y2="80.60" stroke="#151515" stroke-width="1.15" />
<line x1="809.50" y1="0.00" x2="809.50" y2="80.60" stroke="#151515" stroke-width="1.15" />
<line x1="840.38" y1="0.00" x2="840.38" y2="80.60" stroke="#151515" stroke-width="1.15" />
<line x1="871.26" y1="0.00" x2="871.26" y2="80.60" stroke="#151515" stroke-width="1.15" />
<line x1="902.14" y1="0.00" x2="902.14" y2="80.60" stroke="#151515" stroke-width="1.15" />
<line x1="933.02" y1="0.00" x2="933.02" y2="80.60" stroke="#151515" stroke-width="1.15" />
<line x1="963.90" y1="0.00" x2="963.90" y2="80.60" stroke="#151515" stroke-width="1.15" />
<line x1="994.78" y1="0.00" x2="994.78" y2="80.60" stroke="#151515" stroke-width="1.15" />
<line x1="0.30" y1="0.00" x2="0.30" y2="784.00" stroke="#9a9a9a" stroke-width="0.8" />
<text class="tr" transform="translate(1079.00 16.20) scale(1.0013 1)" font-size="17.00" text-anchor="middle" font-weight="bold" fill="#000">Oktober 2021</text>
<line x1="994.78" y1="19.40" x2="1164.30" y2="19.40" stroke="#151515" stroke-width="1.1" />
<line x1="994.78" y1="40.20" x2="1017.40" y2="40.20" stroke="#151515" stroke-width="1.1" />
<line x1="1128.50" y1="40.20" x2="1164.30" y2="40.20" stroke="#151515" stroke-width="1.1" />
<line x1="994.78" y1="60.60" x2="1164.30" y2="60.60" stroke="#151515" stroke-width="1.1" />
<line x1="1017.40" y1="19.40" x2="1017.40" y2="60.60" stroke="#151515" stroke-width="1.1" />
<line x1="1128.50" y1="19.40" x2="1128.50" y2="60.60" stroke="#151515" stroke-width="1.1" />
<line x1="1164.30" y1="0.00" x2="1164.30" y2="784.00" stroke="#151515" stroke-width="1.2" />
<text transform="translate(1006.30 35.30) scale(0.8628 1)" font-size="10.60" text-anchor="middle" fill="#222">m/s</text>
<text transform="translate(1005.80 55.60) scale(0.8137 1)" font-size="10.60" text-anchor="middle" fill="#222">km/h</text>
<text transform="translate(1072.90 35.30) scale(0.8521 1)" font-size="10.90" text-anchor="middle" fill="#1c1c1c">Maximale</text>
<text transform="translate(1072.80 52.30) scale(0.8364 1)" font-size="10.90" text-anchor="middle" fill="#1c1c1c">Windgeschwindigkeit</text>
<text transform="translate(1146.50 34.30) scale(0.9143 1)" font-size="12.21" text-anchor="middle" fill="#000" >25,6</text>
<text transform="translate(1146.50 54.50) scale(0.9143 1)" font-size="12.21" text-anchor="middle" fill="#000" >92,0</text>
<text transform="translate(999.7 78.3) scale(0.86 1.45)" font-size="12.5" stroke="#000" stroke-width="0.3" style="font-family:'DejaVu Sans','Liberation Sans',sans-serif">←</text>
<text transform="translate(1087.60 76.00) scale(0.9444 1)" font-size="10.87" text-anchor="middle" font-weight="bold" fill="#000" >Vorherrschende Windrichtung</text>
<line x1="995.30" y1="80.60" x2="995.30" y2="491.30" stroke="#8c8c8c" stroke-width="1.0" />
<line x1="994.58" y1="491.30" x2="994.58" y2="758.70" stroke="#151515" stroke-width="1.2" />
<line x1="1128.50" y1="80.60" x2="1128.50" y2="512.30" stroke="#151515" stroke-width="1.2" />
<line x1="1128.50" y1="532.70" x2="1128.50" y2="690.70" stroke="#151515" stroke-width="1.2" />
<line x1="1017.40" y1="80.60" x2="1017.40" y2="98.00" stroke="#151515" stroke-width="1.1" />
<line x1="1040.40" y1="80.60" x2="1040.40" y2="98.00" stroke="#151515" stroke-width="1.1" />
<line x1="995.00" y1="98.00" x2="1164.30" y2="98.00" stroke="#151515" stroke-width="1.2" />
<line x1="995.00" y1="119.00" x2="1164.30" y2="119.00" stroke="#151515" stroke-width="1.2" />
<line x1="995.00" y1="139.60" x2="1164.30" y2="139.60" stroke="#151515" stroke-width="1.2" />
<line x1="995.00" y1="160.30" x2="1164.30" y2="160.30" stroke="#151515" stroke-width="1.2" />
<line x1="995.00" y1="181.00" x2="1164.30" y2="181.00" stroke="#151515" stroke-width="1.2" />
<line x1="995.00" y1="201.80" x2="1164.30" y2="201.80" stroke="#151515" stroke-width="1.2" />
<line x1="995.00" y1="222.90" x2="1164.30" y2="222.90" stroke="#151515" stroke-width="1.2" />
<line x1="995.00" y1="243.90" x2="1164.30" y2="243.90" stroke="#151515" stroke-width="1.2" />
<line x1="995.00" y1="265.00" x2="1164.30" y2="265.00" stroke="#151515" stroke-width="1.2" />
<line x1="995.00" y1="285.20" x2="1164.30" y2="285.20" stroke="#151515" stroke-width="1.2" />
<line x1="995.00" y1="324.30" x2="1164.30" y2="324.30" stroke="#151515" stroke-width="1.2" />
<line x1="995.00" y1="363.60" x2="1164.30" y2="363.60" stroke="#151515" stroke-width="1.2" />
<line x1="995.00" y1="384.30" x2="1164.30" y2="384.30" stroke="#151515" stroke-width="1.2" />
<line x1="995.00" y1="405.40" x2="1164.30" y2="405.40" stroke="#151515" stroke-width="1.2" />
<line x1="995.00" y1="426.10" x2="1164.30" y2="426.10" stroke="#151515" stroke-width="1.2" />
<line x1="995.00" y1="450.30" x2="1164.30" y2="450.30" stroke="#151515" stroke-width="1.2" />
<line x1="995.00" y1="491.30" x2="1164.30" y2="491.30" stroke="#151515" stroke-width="1.2" />
<text transform="translate(1145.30 92.50) scale(1.0723 1)" font-size="10.18" text-anchor="middle" fill="#000" >Werte</text>
<text transform="translate(1061.64 113.50) scale(0.9728 1)" font-size="12.44" text-anchor="middle" fill="#000" >Schneefalltage</text>
<text transform="translate(1146.40 113.80) scale(0.9852 1)" font-size="12.95" text-anchor="middle" font-weight="bold" fill="#000" >0</text>
<text transform="translate(1061.64 134.50) scale(0.9638 1)" font-size="12.44" text-anchor="middle" fill="#000" >Schneedeckentage</text>
<text transform="translate(1146.40 134.60) scale(0.9852 1)" font-size="12.95" text-anchor="middle" font-weight="bold" fill="#000" >0</text>
<text class="tr" transform="translate(1061.50 154.90) scale(0.9591 1)" font-size="13.80" text-anchor="middle" fill="#000" stroke="#000" stroke-width="0.2">Frosttage</text>
<text transform="translate(1146.40 155.25) scale(0.9852 1)" font-size="12.95" text-anchor="middle" font-weight="bold" fill="#000" >8</text>
<text transform="translate(1061.64 175.20) scale(0.9371 1)" font-size="12.44" text-anchor="middle" fill="#000" >Eistage</text>
<text transform="translate(1146.40 175.95) scale(0.9852 1)" font-size="12.95" text-anchor="middle" font-weight="bold" fill="#000" >0</text>
<text class="tr" transform="translate(1062.05 195.70) scale(0.9485 1)" font-size="13.80" text-anchor="middle" fill="#000" stroke="#000" stroke-width="0.2">Niederschlagstage</text>
<text transform="translate(1146.40 196.70) scale(0.9852 1)" font-size="12.95" text-anchor="middle" font-weight="bold" fill="#000" >14</text>
<text transform="translate(1061.64 216.70) scale(0.9575 1)" font-size="12.44" text-anchor="middle" fill="#000" >Stürmische Tage</text>
<text transform="translate(1146.40 217.65) scale(0.9852 1)" font-size="12.95" text-anchor="middle" font-weight="bold" fill="#000" >1</text>
<text transform="translate(1061.64 237.70) scale(0.9687 1)" font-size="12.44" text-anchor="middle" fill="#000" >Windige Tage</text>
<text transform="translate(1146.40 238.70) scale(0.9852 1)" font-size="12.95" text-anchor="middle" font-weight="bold" fill="#000" >3</text>
<text transform="translate(1061.64 258.50) scale(0.9844 1)" font-size="12.44" text-anchor="middle" fill="#000" >Sommertage</text>
<text transform="translate(1146.40 259.75) scale(0.9852 1)" font-size="12.95" text-anchor="middle" font-weight="bold" fill="#000" >0</text>
<text transform="translate(1061.64 279.00) scale(0.9385 1)" font-size="12.44" text-anchor="middle" fill="#000" >Heiße Tage</text>
<text transform="translate(1146.40 280.40) scale(0.9852 1)" font-size="12.95" text-anchor="middle" font-weight="bold" fill="#000" >0</text>
<text transform="translate(1061.64 300.20) scale(1.0640 1)" font-size="12.44" text-anchor="middle" fill="#000" >Mittleres</text>
<text transform="translate(1061.64 319.30) scale(0.9711 1)" font-size="12.44" text-anchor="middle" fill="#000" >Tagesmaximum</text>
<text transform="translate(1146.40 309.60) scale(0.9878 1)" font-size="12.95" text-anchor="middle" font-weight="bold" fill="#000" >13,2</text>
<text transform="translate(1061.64 339.50) scale(1.0640 1)" font-size="12.44" text-anchor="middle" fill="#000" >Mittleres</text>
<text transform="translate(1061.64 358.50) scale(0.9857 1)" font-size="12.44" text-anchor="middle" fill="#000" >Tagesminimum</text>
<text transform="translate(1146.40 348.80) scale(0.9888 1)" font-size="12.95" text-anchor="middle" font-weight="bold" fill="#000" >2,9</text>
<text transform="translate(1061.75 377.90) scale(0.9459 1)" font-size="12.30" text-anchor="middle" fill="#111">Wärmster Tag im Mittel</text>
<text transform="translate(1146.40 379.40) scale(0.9878 1)" font-size="12.95" text-anchor="middle" font-weight="bold" fill="#000" >17,3</text>
<text transform="translate(1061.25 398.50) scale(0.9484 1)" font-size="12.30" text-anchor="middle" fill="#111">Kältester Tag im Mittel</text>
<text transform="translate(1146.40 400.40) scale(0.9888 1)" font-size="12.95" text-anchor="middle" font-weight="bold" fill="#000" >4,7</text>
<text transform="translate(1061.55 420.20) scale(0.9336 1)" font-size="13.60" text-anchor="middle" fill="#111">Max-Niederschlag</text>
<text transform="translate(1146.40 420.90) scale(0.9888 1)" font-size="12.95" text-anchor="middle" font-weight="bold" fill="#000" >9,0</text>
<text class="tr" transform="translate(1062.20 443.00) scale(0.9464 1)" font-size="13.80" text-anchor="middle" fill="#000" stroke="#000" stroke-width="0.2">Gewittertage</text>
<text transform="translate(1146.40 443.40) scale(0.9852 1)" font-size="12.95" text-anchor="middle" font-weight="bold" fill="#000" >0</text>
<text transform="translate(1061.64 465.70) scale(1.0452 1)" font-size="12.44" text-anchor="middle" fill="#000" >Mitteltemperatur des</text>
<text transform="translate(1061.64 485.30) scale(0.9729 1)" font-size="12.44" text-anchor="middle" fill="#000" >Monats °C</text>
<text class="tr" transform="translate(1148.25 475.50) scale(1.0012 1)" font-size="17.50" text-anchor="middle" font-weight="bold" fill="#000">8,1</text>
<text transform="translate(19.30 507.10) scale(0.9016 1)" font-size="12.95" text-anchor="middle" fill="#000" >Tag</text>
<text transform="translate(52.94 507.30) scale(0.9842 1)" font-size="11.93" text-anchor="middle" fill="#000" stroke="#000" stroke-width="0.32">1.</text>
<text transform="translate(83.82 507.30) scale(0.9842 1)" font-size="11.93" text-anchor="middle" fill="#000" stroke="#000" stroke-width="0.32">2.</text>
<text transform="translate(114.70 507.30) scale(0.9842 1)" font-size="11.93" text-anchor="middle" fill="#000" stroke="#000" stroke-width="0.32">3.</text>
<text transform="translate(145.58 507.30) scale(0.9842 1)" font-size="11.93" text-anchor="middle" fill="#000" stroke="#000" stroke-width="0.32">4.</text>
<text transform="translate(176.46 507.30) scale(0.9842 1)" font-size="11.93" text-anchor="middle" fill="#000" stroke="#000" stroke-width="0.32">5.</text>
<text transform="translate(207.34 507.30) scale(0.9842 1)" font-size="11.93" text-anchor="middle" fill="#000" stroke="#000" stroke-width="0.32">6.</text>
<text transform="translate(238.22 507.30) scale(0.9842 1)" font-size="11.93" text-anchor="middle" fill="#000" stroke="#000" stroke-width="0.32">7.</text>
<text transform="translate(269.10 507.30) scale(0.9842 1)" font-size="11.93" text-anchor="middle" fill="#000" stroke="#000" stroke-width="0.32">8.</text>
<text transform="translate(299.98 507.30) scale(0.9842 1)" font-size="11.93" text-anchor="middle" fill="#000" stroke="#000" stroke-width="0.32">9.</text>
<text transform="translate(330.86 507.30) scale(0.9846 1)" font-size="11.93" text-anchor="middle" fill="#000" stroke="#000" stroke-width="0.32">10.</text>
<text transform="translate(361.74 507.30) scale(0.9846 1)" font-size="11.93" text-anchor="middle" fill="#000" stroke="#000" stroke-width="0.32">11.</text>
<text transform="translate(392.62 507.30) scale(0.9846 1)" font-size="11.93" text-anchor="middle" fill="#000" stroke="#000" stroke-width="0.32">12.</text>
<text transform="translate(423.50 507.30) scale(0.9846 1)" font-size="11.93" text-anchor="middle" fill="#000" stroke="#000" stroke-width="0.32">13.</text>
<text transform="translate(454.38 507.30) scale(0.9846 1)" font-size="11.93" text-anchor="middle" fill="#000" stroke="#000" stroke-width="0.32">14.</text>
<text transform="translate(485.26 507.30) scale(0.9846 1)" font-size="11.93" text-anchor="middle" fill="#000" stroke="#000" stroke-width="0.32">15.</text>
<text transform="translate(516.14 507.30) scale(0.9846 1)" font-size="11.93" text-anchor="middle" fill="#000" stroke="#000" stroke-width="0.32">16.</text>
<text transform="translate(547.02 507.30) scale(0.9846 1)" font-size="11.93" text-anchor="middle" fill="#000" stroke="#000" stroke-width="0.32">17.</text>
<text transform="translate(577.90 507.30) scale(0.9846 1)" font-size="11.93" text-anchor="middle" fill="#000" stroke="#000" stroke-width="0.32">18.</text>
<text transform="translate(608.78 507.30) scale(0.9846 1)" font-size="11.93" text-anchor="middle" fill="#000" stroke="#000" stroke-width="0.32">19.</text>
<text transform="translate(639.66 507.30) scale(0.9846 1)" font-size="11.93" text-anchor="middle" fill="#000" stroke="#000" stroke-width="0.32">20.</text>
<text transform="translate(670.54 507.30) scale(0.9846 1)" font-size="11.93" text-anchor="middle" fill="#000" stroke="#000" stroke-width="0.32">21.</text>
<text transform="translate(701.42 507.30) scale(0.9846 1)" font-size="11.93" text-anchor="middle" fill="#000" stroke="#000" stroke-width="0.32">22.</text>
<text transform="translate(732.30 507.30) scale(0.9846 1)" font-size="11.93" text-anchor="middle" fill="#000" stroke="#000" stroke-width="0.32">23.</text>
<text transform="translate(763.18 507.30) scale(0.9846 1)" font-size="11.93" text-anchor="middle" fill="#000" stroke="#000" stroke-width="0.32">24.</text>
<text transform="translate(794.06 507.30) scale(0.9846 1)" font-size="11.93" text-anchor="middle" fill="#000" stroke="#000" stroke-width="0.32">25.</text>
<text transform="translate(824.94 507.30) scale(0.9846 1)" font-size="11.93" text-anchor="middle" fill="#000" stroke="#000" stroke-width="0.32">26.</text>
<text transform="translate(855.82 507.30) scale(0.9846 1)" font-size="11.93" text-anchor="middle" fill="#000" stroke="#000" stroke-width="0.32">27.</text>
<text transform="translate(886.70 507.30) scale(0.9846 1)" font-size="11.93" text-anchor="middle" fill="#000" stroke="#000" stroke-width="0.32">28.</text>
<text transform="translate(917.58 507.30) scale(0.9846 1)" font-size="11.93" text-anchor="middle" fill="#000" stroke="#000" stroke-width="0.32">29.</text>
<text transform="translate(948.46 507.30) scale(0.9846 1)" font-size="11.93" text-anchor="middle" fill="#000" stroke="#000" stroke-width="0.32">30.</text>
<text transform="translate(979.34 507.30) scale(0.9846 1)" font-size="11.93" text-anchor="middle" fill="#000" stroke="#000" stroke-width="0.32">31.</text>
<text transform="translate(67.08 527.40) scale(0.9824 1)" font-size="12.58" text-anchor="end" fill="#000" >2,7</text>
<text transform="translate(97.96 527.40) scale(0.9824 1)" font-size="12.58" text-anchor="end" fill="#000" >5,8</text>
<text transform="translate(128.84 527.40) scale(0.9832 1)" font-size="12.58" text-anchor="end" fill="#000" >11,4</text>
<text transform="translate(159.72 527.40) scale(0.9824 1)" font-size="12.58" text-anchor="end" fill="#000" >9,2</text>
<text transform="translate(190.60 527.40) scale(0.9824 1)" font-size="12.58" text-anchor="end" fill="#000" >9,0</text>
<text transform="translate(221.48 527.40) scale(0.9824 1)" font-size="12.58" text-anchor="end" fill="#000" >4,4</text>
<text transform="translate(252.36 527.40) scale(0.9824 1)" font-size="12.58" text-anchor="end" fill="#000" >3,9</text>
<text transform="translate(283.24 527.40) scale(0.9824 1)" font-size="12.58" text-anchor="end" fill="#000" >1,7</text>
<text transform="translate(314.12 527.40) scale(0.9846 1)" font-size="12.58" text-anchor="end" fill="#000" >-1,2</text>
<text transform="translate(345.00 527.40) scale(0.9846 1)" font-size="12.58" text-anchor="end" fill="#000" >-4,0</text>
<text transform="translate(375.88 527.40) scale(0.9846 1)" font-size="12.58" text-anchor="end" fill="#000" >-3,2</text>
<text transform="translate(406.76 527.40) scale(0.9824 1)" font-size="12.58" text-anchor="end" fill="#000" >1,0</text>
<text transform="translate(437.64 527.40) scale(0.9846 1)" font-size="12.58" text-anchor="end" fill="#000" >-1,1</text>
<text transform="translate(468.52 527.40) scale(0.9824 1)" font-size="12.58" text-anchor="end" fill="#000" >3,6</text>
<text transform="translate(499.40 527.40) scale(0.9824 1)" font-size="12.58" text-anchor="end" fill="#000" >2,1</text>
<text transform="translate(530.28 527.40) scale(0.9846 1)" font-size="12.58" text-anchor="end" fill="#000" >-1,4</text>
<text transform="translate(561.16 527.40) scale(0.9846 1)" font-size="12.58" text-anchor="end" fill="#000" >-2,1</text>
<text transform="translate(592.04 527.40) scale(0.9846 1)" font-size="12.58" text-anchor="end" fill="#000" >-0,8</text>
<text transform="translate(622.92 527.40) scale(0.9824 1)" font-size="12.58" text-anchor="end" fill="#000" >0,5</text>
<text transform="translate(653.80 527.40) scale(0.9824 1)" font-size="12.58" text-anchor="end" fill="#000" >3,5</text>
<text transform="translate(684.68 527.40) scale(0.9824 1)" font-size="12.58" text-anchor="end" fill="#000" >5,0</text>
<text transform="translate(715.56 527.40) scale(0.9824 1)" font-size="12.58" text-anchor="end" fill="#000" >0,5</text>
<text transform="translate(746.44 527.40) scale(0.9846 1)" font-size="12.58" text-anchor="end" fill="#000" >-2,7</text>
<text transform="translate(777.32 527.40) scale(0.9846 1)" font-size="12.58" text-anchor="end" fill="#000" >-4,9</text>
<text transform="translate(808.20 527.40) scale(0.9846 1)" font-size="12.58" text-anchor="end" fill="#000" >-3,3</text>
<text transform="translate(839.08 527.40) scale(0.9846 1)" font-size="12.58" text-anchor="end" fill="#000" >-1,0</text>
<text transform="translate(869.96 527.40) scale(0.9846 1)" font-size="12.58" text-anchor="end" fill="#000" >-0,3</text>
<text transform="translate(900.84 527.40) scale(0.9846 1)" font-size="12.58" text-anchor="end" fill="#000" >-1,3</text>
<text transform="translate(931.72 527.40) scale(0.9846 1)" font-size="12.58" text-anchor="end" fill="#000" >-1,2</text>
<text transform="translate(962.60 527.40) scale(0.9846 1)" font-size="12.58" text-anchor="end" fill="#000" >-2,6</text>
<text transform="translate(993.48 527.40) scale(0.9824 1)" font-size="12.58" text-anchor="end" fill="#000" >2,9</text>
<text transform="translate(66.38 566.00) scale(0.9832 1)" font-size="13.04" text-anchor="end" fill="#000" >17,5</text>
<text transform="translate(97.26 566.00) scale(0.9832 1)" font-size="13.04" text-anchor="end" fill="#000" >20,1</text>
<text transform="translate(128.14 566.00) scale(0.9832 1)" font-size="13.04" text-anchor="end" fill="#000" >21,8</text>
<text transform="translate(159.02 566.00) scale(0.9832 1)" font-size="13.04" text-anchor="end" fill="#000" >15,6</text>
<text transform="translate(189.90 566.00) scale(0.9832 1)" font-size="13.04" text-anchor="end" fill="#000" >12,0</text>
<text transform="translate(220.78 566.00) scale(0.9832 1)" font-size="13.04" text-anchor="end" fill="#000" >12,6</text>
<text transform="translate(251.66 566.00) scale(0.9832 1)" font-size="13.04" text-anchor="end" fill="#000" >14,1</text>
<text transform="translate(282.54 566.00) scale(0.9832 1)" font-size="13.04" text-anchor="end" fill="#000" >15,5</text>
<text transform="translate(313.42 566.00) scale(0.9832 1)" font-size="13.04" text-anchor="end" fill="#000" >15,3</text>
<text transform="translate(344.30 566.00) scale(0.9832 1)" font-size="13.04" text-anchor="end" fill="#000" >13,7</text>
<text transform="translate(375.18 566.00) scale(0.9832 1)" font-size="13.04" text-anchor="end" fill="#000" >12,9</text>
<text transform="translate(406.06 566.00) scale(0.9824 1)" font-size="13.04" text-anchor="end" fill="#000" >9,8</text>
<text transform="translate(436.94 566.00) scale(0.9824 1)" font-size="13.04" text-anchor="end" fill="#000" >9,4</text>
<text transform="translate(467.82 566.00) scale(0.9824 1)" font-size="13.04" text-anchor="end" fill="#000" >8,3</text>
<text transform="translate(498.70 566.00) scale(0.9832 1)" font-size="13.04" text-anchor="end" fill="#000" >13,6</text>
<text transform="translate(529.18 566.00) scale(0.9438 1)" font-size="11.93" text-anchor="end" fill="#000" >11,7</text>
<text transform="translate(560.06 566.00) scale(0.9438 1)" font-size="11.93" text-anchor="end" fill="#000" >10,3</text>
<text transform="translate(590.94 566.00) scale(0.9438 1)" font-size="11.93" text-anchor="end" fill="#000" >13,7</text>
<text transform="translate(621.82 566.00) scale(0.9438 1)" font-size="11.93" text-anchor="end" fill="#000" >10,7</text>
<text transform="translate(652.70 566.00) scale(0.9438 1)" font-size="11.93" text-anchor="end" fill="#000" >18,2</text>
<text transform="translate(683.58 566.00) scale(0.9438 1)" font-size="11.93" text-anchor="end" fill="#000" >13,6</text>
<text transform="translate(714.46 566.00) scale(0.9431 1)" font-size="11.93" text-anchor="end" fill="#000" >9,7</text>
<text transform="translate(745.34 566.00) scale(0.9438 1)" font-size="11.93" text-anchor="end" fill="#000" >10,1</text>
<text transform="translate(776.22 566.00) scale(0.9438 1)" font-size="11.93" text-anchor="end" fill="#000" >12,8</text>
<text transform="translate(807.10 566.00) scale(0.9438 1)" font-size="11.93" text-anchor="end" fill="#000" >12,1</text>
<text transform="translate(837.98 566.00) scale(0.9438 1)" font-size="11.93" text-anchor="end" fill="#000" >10,7</text>
<text transform="translate(868.86 566.00) scale(0.9438 1)" font-size="11.93" text-anchor="end" fill="#000" >10,5</text>
<text transform="translate(899.74 566.00) scale(0.9438 1)" font-size="11.93" text-anchor="end" fill="#000" >10,5</text>
<text transform="translate(930.62 566.00) scale(0.9438 1)" font-size="11.93" text-anchor="end" fill="#000" >12,1</text>
<text transform="translate(961.50 566.00) scale(0.9438 1)" font-size="11.93" text-anchor="end" fill="#000" >12,1</text>
<text transform="translate(992.38 566.00) scale(0.9438 1)" font-size="11.93" text-anchor="end" fill="#000" >18,6</text>
<text transform="translate(66.38 584.20) scale(0.9824 1)" font-size="13.04" text-anchor="end" fill="#000" >4,2</text>
<text transform="translate(97.26 584.20) scale(0.9824 1)" font-size="13.04" text-anchor="end" fill="#000" >7,6</text>
<text transform="translate(128.14 584.20) scale(0.9832 1)" font-size="13.04" text-anchor="end" fill="#000" >12,8</text>
<text transform="translate(159.02 584.20) scale(0.9832 1)" font-size="13.04" text-anchor="end" fill="#000" >10,1</text>
<text transform="translate(189.90 584.20) scale(0.9832 1)" font-size="13.04" text-anchor="end" fill="#000" >10,5</text>
<text transform="translate(220.78 584.20) scale(0.9824 1)" font-size="13.04" text-anchor="end" fill="#000" >6,5</text>
<text transform="translate(251.66 584.20) scale(0.9824 1)" font-size="13.04" text-anchor="end" fill="#000" >5,7</text>
<text transform="translate(282.54 584.20) scale(0.9824 1)" font-size="13.04" text-anchor="end" fill="#000" >4,2</text>
<text transform="translate(313.42 584.20) scale(0.9824 1)" font-size="13.04" text-anchor="end" fill="#000" >1,4</text>
<text transform="translate(344.30 584.20) scale(0.9846 1)" font-size="13.04" text-anchor="end" fill="#000" >-2,3</text>
<text transform="translate(375.18 584.20) scale(0.9846 1)" font-size="13.04" text-anchor="end" fill="#000" >-1,8</text>
<text transform="translate(406.06 584.20) scale(0.9824 1)" font-size="13.04" text-anchor="end" fill="#000" >2,9</text>
<text transform="translate(436.94 584.20) scale(0.9824 1)" font-size="13.04" text-anchor="end" fill="#000" >0,8</text>
<text transform="translate(467.82 584.20) scale(0.9824 1)" font-size="13.04" text-anchor="end" fill="#000" >3,1</text>
<text transform="translate(498.70 584.20) scale(0.9824 1)" font-size="13.04" text-anchor="end" fill="#000" >3,9</text>
<text transform="translate(529.18 584.20) scale(0.9431 1)" font-size="11.93" text-anchor="end" fill="#000" >0,1</text>
<text transform="translate(560.06 584.20) scale(0.9452 1)" font-size="11.93" text-anchor="end" fill="#000" >-0,9</text>
<text transform="translate(590.94 584.20) scale(0.9431 1)" font-size="11.93" text-anchor="end" fill="#000" >1,1</text>
<text transform="translate(621.82 584.20) scale(0.9431 1)" font-size="11.93" text-anchor="end" fill="#000" >2,5</text>
<text transform="translate(652.70 584.20) scale(0.9431 1)" font-size="11.93" text-anchor="end" fill="#000" >5,8</text>
<text transform="translate(683.58 584.20) scale(0.9431 1)" font-size="11.93" text-anchor="end" fill="#000" >6,0</text>
<text transform="translate(714.46 584.20) scale(0.9431 1)" font-size="11.93" text-anchor="end" fill="#000" >3,0</text>
<text transform="translate(745.34 584.20) scale(0.9452 1)" font-size="11.93" text-anchor="end" fill="#000" >-0,8</text>
<text transform="translate(776.22 584.20) scale(0.9452 1)" font-size="11.93" text-anchor="end" fill="#000" >-2,9</text>
<text transform="translate(807.10 584.20) scale(0.9452 1)" font-size="11.93" text-anchor="end" fill="#000" >-1,4</text>
<text transform="translate(837.98 584.20) scale(0.9431 1)" font-size="11.93" text-anchor="end" fill="#000" >1,1</text>
<text transform="translate(868.86 584.20) scale(0.9431 1)" font-size="11.93" text-anchor="end" fill="#000" >2,5</text>
<text transform="translate(899.74 584.20) scale(0.9452 1)" font-size="11.93" text-anchor="end" fill="#000" >-0,5</text>
<text transform="translate(930.62 584.20) scale(0.9431 1)" font-size="11.93" text-anchor="end" fill="#000" >0,3</text>
<text transform="translate(961.50 584.20) scale(0.9452 1)" font-size="11.93" text-anchor="end" fill="#000" >-1,7</text>
<text transform="translate(992.38 584.20) scale(0.9431 1)" font-size="11.93" text-anchor="end" fill="#000" >5,9</text>
<text transform="translate(66.38 601.60) scale(0.9832 1)" font-size="13.04" text-anchor="end" fill="#000" >10,9</text>
<text transform="translate(97.26 601.60) scale(0.9832 1)" font-size="13.04" text-anchor="end" fill="#000" >13,9</text>
<text transform="translate(128.14 601.60) scale(0.9832 1)" font-size="13.04" text-anchor="end" fill="#000" >17,3</text>
<text transform="translate(159.02 601.60) scale(0.9832 1)" font-size="13.04" text-anchor="end" fill="#000" >12,9</text>
<text transform="translate(189.90 601.60) scale(0.9832 1)" font-size="13.04" text-anchor="end" fill="#000" >11,3</text>
<text transform="translate(220.78 601.60) scale(0.9824 1)" font-size="13.04" text-anchor="end" fill="#000" >9,6</text>
<text transform="translate(251.66 601.60) scale(0.9824 1)" font-size="13.04" text-anchor="end" fill="#000" >9,9</text>
<text transform="translate(282.54 601.60) scale(0.9824 1)" font-size="13.04" text-anchor="end" fill="#000" >9,9</text>
<text transform="translate(313.42 601.60) scale(0.9824 1)" font-size="13.04" text-anchor="end" fill="#000" >8,4</text>
<text transform="translate(344.30 601.60) scale(0.9824 1)" font-size="13.04" text-anchor="end" fill="#000" >5,7</text>
<text transform="translate(375.18 601.60) scale(0.9824 1)" font-size="13.04" text-anchor="end" fill="#000" >5,6</text>
<text transform="translate(406.06 601.60) scale(0.9824 1)" font-size="13.04" text-anchor="end" fill="#000" >6,4</text>
<text transform="translate(436.94 601.60) scale(0.9824 1)" font-size="13.04" text-anchor="end" fill="#000" >5,1</text>
<text transform="translate(467.82 601.60) scale(0.9824 1)" font-size="13.04" text-anchor="end" fill="#000" >5,7</text>
<text transform="translate(498.70 601.60) scale(0.9824 1)" font-size="13.04" text-anchor="end" fill="#000" >8,8</text>
<text transform="translate(529.58 601.60) scale(0.9824 1)" font-size="13.04" text-anchor="end" fill="#000" >5,9</text>
<text transform="translate(560.46 601.60) scale(0.9824 1)" font-size="13.04" text-anchor="end" fill="#000" >4,7</text>
<text transform="translate(591.34 601.60) scale(0.9824 1)" font-size="13.04" text-anchor="end" fill="#000" >7,4</text>
<text transform="translate(622.22 601.60) scale(0.9824 1)" font-size="13.04" text-anchor="end" fill="#000" >6,6</text>
<text transform="translate(653.10 601.60) scale(0.9832 1)" font-size="13.04" text-anchor="end" fill="#000" >12,0</text>
<text transform="translate(683.98 601.60) scale(0.9824 1)" font-size="13.04" text-anchor="end" fill="#000" >9,8</text>
<text transform="translate(714.86 601.60) scale(0.9824 1)" font-size="13.04" text-anchor="end" fill="#000" >6,4</text>
<text transform="translate(745.74 601.60) scale(0.9824 1)" font-size="13.04" text-anchor="end" fill="#000" >4,7</text>
<text transform="translate(776.62 601.60) scale(0.9824 1)" font-size="13.04" text-anchor="end" fill="#000" >5,0</text>
<text transform="translate(807.50 601.60) scale(0.9824 1)" font-size="13.04" text-anchor="end" fill="#000" >5,4</text>
<text transform="translate(838.38 601.60) scale(0.9824 1)" font-size="13.04" text-anchor="end" fill="#000" >5,9</text>
<text transform="translate(869.26 601.60) scale(0.9824 1)" font-size="13.04" text-anchor="end" fill="#000" >6,5</text>
<text transform="translate(900.14 601.60) scale(0.9824 1)" font-size="13.04" text-anchor="end" fill="#000" >5,0</text>
<text transform="translate(931.02 601.60) scale(0.9824 1)" font-size="13.04" text-anchor="end" fill="#000" >6,2</text>
<text transform="translate(961.90 601.60) scale(0.9824 1)" font-size="13.04" text-anchor="end" fill="#000" >5,2</text>
<text transform="translate(992.78 601.60) scale(0.9832 1)" font-size="13.04" text-anchor="end" fill="#000" >12,3</text>
<text transform="translate(190.10 548.00) scale(0.9824 1)" font-size="12.58" text-anchor="end" fill="#000" >3,8</text>
<text transform="translate(220.98 548.00) scale(0.9824 1)" font-size="12.58" text-anchor="end" fill="#000" >0,2</text>
<text transform="translate(375.38 548.00) scale(0.9824 1)" font-size="12.58" text-anchor="end" fill="#000" >0,2</text>
<text transform="translate(406.26 548.00) scale(0.9824 1)" font-size="12.58" text-anchor="end" fill="#000" >8,9</text>
<text transform="translate(437.14 548.00) scale(0.9824 1)" font-size="12.58" text-anchor="end" fill="#000" >0,1</text>
<text transform="translate(468.02 548.00) scale(0.9824 1)" font-size="12.58" text-anchor="end" fill="#000" >4,2</text>
<text transform="translate(498.90 548.00) scale(0.9824 1)" font-size="12.58" text-anchor="end" fill="#000" >0,1</text>
<text transform="translate(529.78 548.00) scale(0.9824 1)" font-size="12.58" text-anchor="end" fill="#000" >0,2</text>
<text transform="translate(622.42 548.00) scale(0.9824 1)" font-size="12.58" text-anchor="end" fill="#000" >0,5</text>
<text transform="translate(653.30 548.00) scale(0.9824 1)" font-size="12.58" text-anchor="end" fill="#000" >5,0</text>
<text transform="translate(684.18 548.00) scale(0.9824 1)" font-size="12.58" text-anchor="end" fill="#000" >9,0</text>
<text transform="translate(715.06 548.00) scale(0.9824 1)" font-size="12.58" text-anchor="end" fill="#000" >0,1</text>
<text transform="translate(745.94 548.00) scale(0.9824 1)" font-size="12.58" text-anchor="end" fill="#000" >1,1</text>
<text transform="translate(962.10 548.00) scale(0.9824 1)" font-size="12.58" text-anchor="end" fill="#000" >0,2</text>
<text transform="translate(27.60 527.60) scale(0.8402 1)" font-size="12.77" text-anchor="middle" fill="#000" >°C</text>
<text transform="translate(27.60 566.20) scale(0.8402 1)" font-size="12.77" text-anchor="middle" fill="#000" >°C</text>
<text transform="translate(27.60 584.40) scale(0.8402 1)" font-size="12.77" text-anchor="middle" fill="#000" >°C</text>
<text transform="translate(27.60 601.80) scale(0.8402 1)" font-size="12.77" text-anchor="middle" fill="#000" >°C</text>
<text transform="translate(27.90 548.90) scale(0.8081 1)" font-size="8.60" text-anchor="middle" font-weight="bold" fill="#222">l/m²</text>
<text transform="translate(52.94 643.00) scale(0.9327 1)" font-size="12.58" text-anchor="middle" fill="#000" >H</text>
<text transform="translate(83.82 643.00) scale(0.9327 1)" font-size="12.58" text-anchor="middle" fill="#000" >H</text>
<text transform="translate(114.70 643.00) scale(0.9327 1)" font-size="12.58" text-anchor="middle" fill="#000" >H</text>
<text transform="translate(145.58 643.00) scale(0.8816 1)" font-size="12.58" text-anchor="middle" fill="#000" >B</text>
<text transform="translate(176.46 643.00) scale(0.8816 1)" font-size="12.58" text-anchor="middle" fill="#000" >B</text>
<text transform="translate(207.34 643.00) scale(0.8816 1)" font-size="12.58" text-anchor="middle" fill="#000" >B</text>
<text transform="translate(238.22 643.00) scale(0.8816 1)" font-size="12.58" text-anchor="middle" fill="#000" >B</text>
<text transform="translate(269.10 643.00) scale(0.9327 1)" font-size="12.58" text-anchor="middle" fill="#000" >H</text>
<text transform="translate(299.98 643.00) scale(0.9202 1)" font-size="12.58" text-anchor="middle" fill="#000" >O</text>
<text transform="translate(330.86 643.00) scale(0.9202 1)" font-size="12.58" text-anchor="middle" fill="#000" >O</text>
<text transform="translate(361.74 643.00) scale(0.8816 1)" font-size="12.58" text-anchor="middle" fill="#000" >B</text>
<text transform="translate(392.62 643.00) scale(0.8816 1)" font-size="12.58" text-anchor="middle" fill="#000" >B</text>
<text transform="translate(423.50 643.00) scale(0.8816 1)" font-size="12.58" text-anchor="middle" fill="#000" >B</text>
<text transform="translate(454.38 643.00) scale(0.8816 1)" font-size="12.58" text-anchor="middle" fill="#000" >B</text>
<text transform="translate(485.26 643.00) scale(0.8816 1)" font-size="12.58" text-anchor="middle" fill="#000" >B</text>
<text transform="translate(516.14 643.00) scale(0.9327 1)" font-size="12.58" text-anchor="middle" fill="#000" >H</text>
<text transform="translate(547.02 643.00) scale(0.8816 1)" font-size="12.58" text-anchor="middle" fill="#000" >B</text>
<text transform="translate(577.90 643.00) scale(0.9327 1)" font-size="12.58" text-anchor="middle" fill="#000" >H</text>
<text transform="translate(608.78 643.00) scale(0.8816 1)" font-size="12.58" text-anchor="middle" fill="#000" >B</text>
<text transform="translate(639.66 643.00) scale(0.8816 1)" font-size="12.58" text-anchor="middle" fill="#000" >B</text>
<text transform="translate(670.54 643.00) scale(0.8816 1)" font-size="12.58" text-anchor="middle" fill="#000" >B</text>
<text transform="translate(701.42 643.00) scale(0.9327 1)" font-size="12.58" text-anchor="middle" fill="#000" >H</text>
<text transform="translate(732.30 643.00) scale(0.9327 1)" font-size="12.58" text-anchor="middle" fill="#000" >H</text>
<text transform="translate(763.18 643.00) scale(0.9327 1)" font-size="12.58" text-anchor="middle" fill="#000" >H</text>
<text transform="translate(794.06 643.00) scale(0.9327 1)" font-size="12.58" text-anchor="middle" fill="#000" >H</text>
<text transform="translate(824.94 643.00) scale(0.8816 1)" font-size="12.58" text-anchor="middle" fill="#000" >B</text>
<text transform="translate(855.82 643.00) scale(0.9327 1)" font-size="12.58" text-anchor="middle" fill="#000" >H</text>
<text transform="translate(886.70 643.00) scale(0.8816 1)" font-size="12.58" text-anchor="middle" fill="#000" >B</text>
<text transform="translate(917.58 643.00) scale(0.9327 1)" font-size="12.58" text-anchor="middle" fill="#000" >H</text>
<text transform="translate(948.46 643.00) scale(0.9327 1)" font-size="12.58" text-anchor="middle" fill="#000" >H</text>
<text transform="translate(979.34 643.00) scale(0.9327 1)" font-size="12.58" text-anchor="middle" fill="#000" >H</text>
<text transform="translate(176.46 664.00) scale(0.8128 1)" font-size="12.58" text-anchor="middle" fill="#000" >R</text>
<text transform="translate(207.34 664.00) scale(0.8128 1)" font-size="12.58" text-anchor="middle" fill="#000" >R</text>
<text transform="translate(361.74 664.00) scale(0.8128 1)" font-size="12.58" text-anchor="middle" fill="#000" >R</text>
<text transform="translate(392.62 664.00) scale(0.8128 1)" font-size="12.58" text-anchor="middle" fill="#000" >R</text>
<text transform="translate(423.50 664.00) scale(0.8128 1)" font-size="12.58" text-anchor="middle" fill="#000" >R</text>
<text transform="translate(454.38 664.00) scale(0.8128 1)" font-size="12.58" text-anchor="middle" fill="#000" >R</text>
<text transform="translate(485.26 664.00) scale(0.8128 1)" font-size="12.58" text-anchor="middle" fill="#000" >R</text>
<text transform="translate(516.14 664.00) scale(0.8128 1)" font-size="12.58" text-anchor="middle" fill="#000" >R</text>
<text transform="translate(608.78 664.00) scale(0.8128 1)" font-size="12.58" text-anchor="middle" fill="#000" >R</text>
<text transform="translate(639.66 664.00) scale(0.8128 1)" font-size="12.58" text-anchor="middle" fill="#000" >R</text>
<text transform="translate(670.54 664.00) scale(0.8128 1)" font-size="12.58" text-anchor="middle" fill="#000" >R</text>
<text transform="translate(701.42 664.00) scale(0.8128 1)" font-size="12.58" text-anchor="middle" fill="#000" >R</text>
<text transform="translate(732.30 664.00) scale(0.8128 1)" font-size="12.58" text-anchor="middle" fill="#000" >R</text>
<text transform="translate(948.46 664.00) scale(0.8128 1)" font-size="12.58" text-anchor="middle" fill="#000" >R</text>
<text transform="translate(516.14 685.00) scale(0.9663 1)" font-size="12.58" text-anchor="middle" fill="#000" >N</text>
<text transform="translate(547.02 685.00) scale(0.9663 1)" font-size="12.58" text-anchor="middle" fill="#000" >N</text>
<text transform="translate(577.90 685.00) scale(0.9663 1)" font-size="12.58" text-anchor="middle" fill="#000" >N</text>
<text transform="translate(608.78 685.00) scale(0.9663 1)" font-size="12.58" text-anchor="middle" fill="#000" >N</text>
<text transform="translate(886.70 685.00) scale(0.9663 1)" font-size="12.58" text-anchor="middle" fill="#000" >N</text>
<text transform="translate(917.58 685.00) scale(0.9663 1)" font-size="12.58" text-anchor="middle" fill="#000" >N</text>
<g transform="translate(33.7 667.8) rotate(-90)">
<text transform="translate(0.00 0.00) scale(1.0292 1)" font-size="12.30" text-anchor="middle" font-weight="bold" fill="#000" letter-spacing="0.75">Wetter</text>
</g>
<g transform="translate(33.7 734.4) rotate(-90)">
<text transform="translate(0.00 0.00) scale(0.9030 1)" font-size="12.30" text-anchor="middle" font-weight="bold" fill="#000" letter-spacing="0.75">Schnee</text>
</g>
<text transform="translate(1061.64 507.20) scale(0.9433 1)" font-size="12.16" text-anchor="middle" font-weight="bold" fill="#000" >Bodenfrosttage</text>
<text transform="translate(1146.40 507.30) scale(0.9852 1)" font-size="12.95" text-anchor="middle" font-weight="bold" fill="#000" >15</text>
<text transform="translate(1079.70 527.70) scale(1.0016 1)" font-size="12.86" text-anchor="middle" fill="#000" >Min-Temperatur i. 5 cm Höhe</text>
<text transform="translate(1062.00 547.30) scale(0.9944 1)" font-size="12.44" text-anchor="middle" fill="#000" >Niederschlag - Monat</text>
<text transform="translate(1146.40 548.70) scale(0.9878 1)" font-size="13.23" text-anchor="middle" font-weight="bold" fill="#000" >33,6</text>
<text transform="translate(1062.00 566.10) scale(0.9988 1)" font-size="12.44" text-anchor="middle" fill="#000" >Höchste-Temperatur</text>
<text transform="translate(1146.40 567.50) scale(0.9878 1)" font-size="13.23" text-anchor="middle" font-weight="bold" fill="#000" >21,8</text>
<text transform="translate(1061.50 583.80) scale(1.0072 1)" font-size="12.58" text-anchor="middle" fill="#000" >Niedrigste-Temperatur</text>
<text transform="translate(1145.40 585.20) scale(0.9898 1)" font-size="13.23" text-anchor="middle" font-weight="bold" fill="#000" >-2,9</text>
<text transform="translate(1061.35 601.50) scale(0.9062 1)" font-size="12.60" text-anchor="middle" fill="#111">Tagesmittel</text>
<text transform="translate(1146.40 602.90) scale(0.9888 1)" font-size="13.23" text-anchor="middle" font-weight="bold" fill="#000" >8,1</text>
<text transform="translate(1061.05 622.00) scale(0.8702 1)" font-size="15.00" text-anchor="middle" fill="#111">Kältesumme</text>
<text transform="translate(1146.40 623.00) scale(0.9888 1)" font-size="12.95" text-anchor="middle" font-weight="bold" fill="#000" >0,0</text>
<text transform="translate(1061.60 642.70) scale(1.0314 1)" font-size="12.44" text-anchor="middle" fill="#000" >Min-Bodentemperatur</text>
<text transform="translate(1145.40 643.50) scale(0.9898 1)" font-size="12.95" text-anchor="middle" font-weight="bold" fill="#000" >-4,9</text>
<text transform="translate(1061.50 662.90) scale(0.9773 1)" font-size="11.84" text-anchor="middle" font-weight="bold" fill="#000" >Mittel 1961-1990 in °C</text>
<text class="tr" transform="translate(1148.75 663.70) scale(0.9882 1)" font-size="16.00" text-anchor="middle" fill="#000" stroke="#000" stroke-width="0.35">7,9</text>
<text class="tr" transform="translate(1060.35 684.80) scale(0.9621 1)" font-size="11.40" text-anchor="middle" font-weight="bold" fill="#ff0000">Abweichung v. Mittel in °C</text>
<text class="tr" transform="translate(1148.70 685.30) scale(1.0153 1)" font-size="16.50" text-anchor="middle" fill="#ff0000" stroke="#ff0000" stroke-width="0.35">0,2</text>
<text class="tr" transform="translate(1147.05 705.00) scale(0.9787 1)" font-size="10.80" text-anchor="middle" font-weight="bold" fill="#000">Max</text>
<text class="tr" transform="translate(1061.65 728.20) scale(0.9962 1)" font-size="14.00" text-anchor="middle" fill="#000">Schneedecke -   SH</text>
<text class="tr" transform="translate(1146.80 731.80) scale(1.0000 1)" font-size="12.60" text-anchor="middle" font-weight="bold" fill="#000" >0</text>
<text class="tr" transform="translate(1061.75 753.90) scale(0.9901 1)" font-size="13.80" text-anchor="middle" fill="#000">Neuschneehöhe- NSH</text>
<text class="tr" transform="translate(1146.80 753.60) scale(1.0000 1)" font-size="12.60" text-anchor="middle" font-weight="bold" fill="#000" >0</text>
<line x1="37.50" y1="491.30" x2="37.50" y2="758.70" stroke="#151515" stroke-width="1.15" />
<line x1="68.38" y1="491.30" x2="68.38" y2="758.70" stroke="#151515" stroke-width="1.15" />
<line x1="99.26" y1="491.30" x2="99.26" y2="758.70" stroke="#151515" stroke-width="1.15" />
<line x1="130.14" y1="491.30" x2="130.14" y2="758.70" stroke="#151515" stroke-width="1.15" />
<line x1="161.02" y1="491.30" x2="161.02" y2="758.70" stroke="#151515" stroke-width="1.15" />
<line x1="191.90" y1="491.30" x2="191.90" y2="758.70" stroke="#151515" stroke-width="1.15" />
<line x1="222.78" y1="491.30" x2="222.78" y2="758.70" stroke="#151515" stroke-width="1.15" />
<line x1="253.66" y1="491.30" x2="253.66" y2="758.70" stroke="#151515" stroke-width="1.15" />
<line x1="284.54" y1="491.30" x2="284.54" y2="758.70" stroke="#151515" stroke-width="1.15" />
<line x1="315.42" y1="491.30" x2="315.42" y2="758.70" stroke="#151515" stroke-width="1.15" />
<line x1="346.30" y1="491.30" x2="346.30" y2="758.70" stroke="#151515" stroke-width="1.15" />
<line x1="377.18" y1="491.30" x2="377.18" y2="758.70" stroke="#151515" stroke-width="1.15" />
<line x1="408.06" y1="491.30" x2="408.06" y2="758.70" stroke="#151515" stroke-width="1.15" />
<line x1="438.94" y1="491.30" x2="438.94" y2="758.70" stroke="#151515" stroke-width="1.15" />
<line x1="469.82" y1="491.30" x2="469.82" y2="758.70" stroke="#151515" stroke-width="1.15" />
<line x1="500.70" y1="491.30" x2="500.70" y2="758.70" stroke="#151515" stroke-width="1.15" />
<line x1="531.58" y1="491.30" x2="531.58" y2="758.70" stroke="#151515" stroke-width="1.15" />
<line x1="562.46" y1="491.30" x2="562.46" y2="758.70" stroke="#151515" stroke-width="1.15" />
<line x1="593.34" y1="491.30" x2="593.34" y2="758.70" stroke="#151515" stroke-width="1.15" />
<line x1="624.22" y1="491.30" x2="624.22" y2="758.70" stroke="#151515" stroke-width="1.15" />
<line x1="655.10" y1="491.30" x2="655.10" y2="758.70" stroke="#151515" stroke-width="1.15" />
<line x1="685.98" y1="491.30" x2="685.98" y2="758.70" stroke="#151515" stroke-width="1.15" />
<line x1="716.86" y1="491.30" x2="716.86" y2="758.70" stroke="#151515" stroke-width="1.15" />
<line x1="747.74" y1="491.30" x2="747.74" y2="758.70" stroke="#151515" stroke-width="1.15" />
<line x1="778.62" y1="491.30" x2="778.62" y2="758.70" stroke="#151515" stroke-width="1.15" />
<line x1="809.50" y1="491.30" x2="809.50" y2="758.70" stroke="#151515" stroke-width="1.15" />
<line x1="840.38" y1="491.30" x2="840.38" y2="758.70" stroke="#151515" stroke-width="1.15" />
<line x1="871.26" y1="491.30" x2="871.26" y2="758.70" stroke="#151515" stroke-width="1.15" />
<line x1="902.14" y1="491.30" x2="902.14" y2="758.70" stroke="#151515" stroke-width="1.15" />
<line x1="933.02" y1="491.30" x2="933.02" y2="758.70" stroke="#151515" stroke-width="1.15" />
<line x1="963.90" y1="491.30" x2="963.90" y2="758.70" stroke="#151515" stroke-width="1.15" />
<line x1="994.78" y1="491.30" x2="994.78" y2="758.70" stroke="#151515" stroke-width="1.15" />
<line x1="19.10" y1="512.30" x2="19.10" y2="784.00" stroke="#151515" stroke-width="1.2" />
<line x1="0.00" y1="491.30" x2="1164.30" y2="491.30" stroke="#333" stroke-width="1.0" />
<line x1="0.00" y1="512.30" x2="1164.30" y2="512.30" stroke="#151515" stroke-width="1.15" />
<line x1="0.00" y1="532.70" x2="1164.30" y2="532.70" stroke="#151515" stroke-width="1.15" />
<line x1="0.00" y1="553.50" x2="19.10" y2="553.50" stroke="#151515" stroke-width="1.15" />
<line x1="19.10" y1="553.50" x2="1128.50" y2="553.50" stroke="#f01010" stroke-width="1.1" />
<line x1="1128.50" y1="553.50" x2="1164.30" y2="553.50" stroke="#151515" stroke-width="1.15" />
<line x1="438.94" y1="553.50" x2="500.70" y2="553.50" stroke="#151515" stroke-width="1.3" />
<line x1="593.34" y1="553.50" x2="624.22" y2="553.50" stroke="#151515" stroke-width="1.3" />
<line x1="0.00" y1="571.20" x2="1164.30" y2="571.20" stroke="#151515" stroke-width="1.15" />
<line x1="0.00" y1="589.40" x2="1164.30" y2="589.40" stroke="#151515" stroke-width="1.15" />
<line x1="0.00" y1="606.20" x2="19.10" y2="606.20" stroke="#151515" stroke-width="1.15" />
<line x1="19.10" y1="606.20" x2="1128.50" y2="606.20" stroke="#f01010" stroke-width="1.1" />
<line x1="1128.50" y1="606.20" x2="1164.30" y2="606.20" stroke="#151515" stroke-width="1.15" />
<line x1="346.30" y1="606.20" x2="377.18" y2="606.20" stroke="#151515" stroke-width="1.3" />
<line x1="0.00" y1="627.30" x2="1164.30" y2="627.30" stroke="#151515" stroke-width="1.15" />
<line x1="0.00" y1="648.40" x2="19.10" y2="648.40" stroke="#151515" stroke-width="1.15" />
<line x1="37.50" y1="648.40" x2="1164.30" y2="648.40" stroke="#151515" stroke-width="1.15" />
<line x1="0.00" y1="669.20" x2="19.10" y2="669.20" stroke="#151515" stroke-width="1.15" />
<line x1="37.50" y1="669.20" x2="1164.30" y2="669.20" stroke="#151515" stroke-width="1.15" />
<line x1="0.00" y1="690.70" x2="19.10" y2="690.70" stroke="#151515" stroke-width="1.15" />
<line x1="37.50" y1="690.70" x2="1164.30" y2="690.70" stroke="#151515" stroke-width="1.15" />
<line x1="0.00" y1="710.00" x2="19.10" y2="710.00" stroke="#151515" stroke-width="1.15" />
<line x1="18.10" y1="710.00" x2="1164.30" y2="710.00" stroke="#000" stroke-width="2.0" />
<line x1="0.00" y1="736.80" x2="19.10" y2="736.80" stroke="#151515" stroke-width="1.15" />
<line x1="37.50" y1="736.80" x2="1164.30" y2="736.80" stroke="#151515" stroke-width="1.15" />
<line x1="0.00" y1="758.70" x2="19.10" y2="758.70" stroke="#151515" stroke-width="1.15" />
<line x1="18.10" y1="758.70" x2="1164.30" y2="758.70" stroke="#000" stroke-width="2.0" />
<line x1="0.00" y1="783.20" x2="1164.30" y2="783.20" stroke="#151515" stroke-width="1.15" />
<line x1="19.10" y1="710.00" x2="19.10" y2="758.70" stroke="#000" stroke-width="2.0" />
<line x1="37.50" y1="710.00" x2="37.50" y2="758.70" stroke="#000" stroke-width="1.8" />
<line x1="994.78" y1="710.00" x2="994.78" y2="758.70" stroke="#000" stroke-width="2.0" />
<line x1="1128.50" y1="690.70" x2="1128.50" y2="758.70" stroke="#000" stroke-width="2.0" />
<line x1="1128.50" y1="690.70" x2="1164.30" y2="690.70" stroke="#000" stroke-width="2.0" />
<text class="tr" transform="translate(339.50 778.20) scale(1.0053 1)" font-size="16.10" text-anchor="middle" fill="#000">Datenerfassung:  Standort -  95496  Glashütten, Altenhimmelstr. 37</text>
<text transform="translate(951.90 777.80) scale(0.9865 1)" font-size="15.39" text-anchor="middle" fill="#000" >Koordinaten:  49° 52' 48' Nord,   11° 27' 04'' Ost   440 m ü. NN</text>
<line x1="654.80" y1="758.70" x2="654.80" y2="784.00" stroke="#151515" stroke-width="1.2" />
</svg>
</body></html>
